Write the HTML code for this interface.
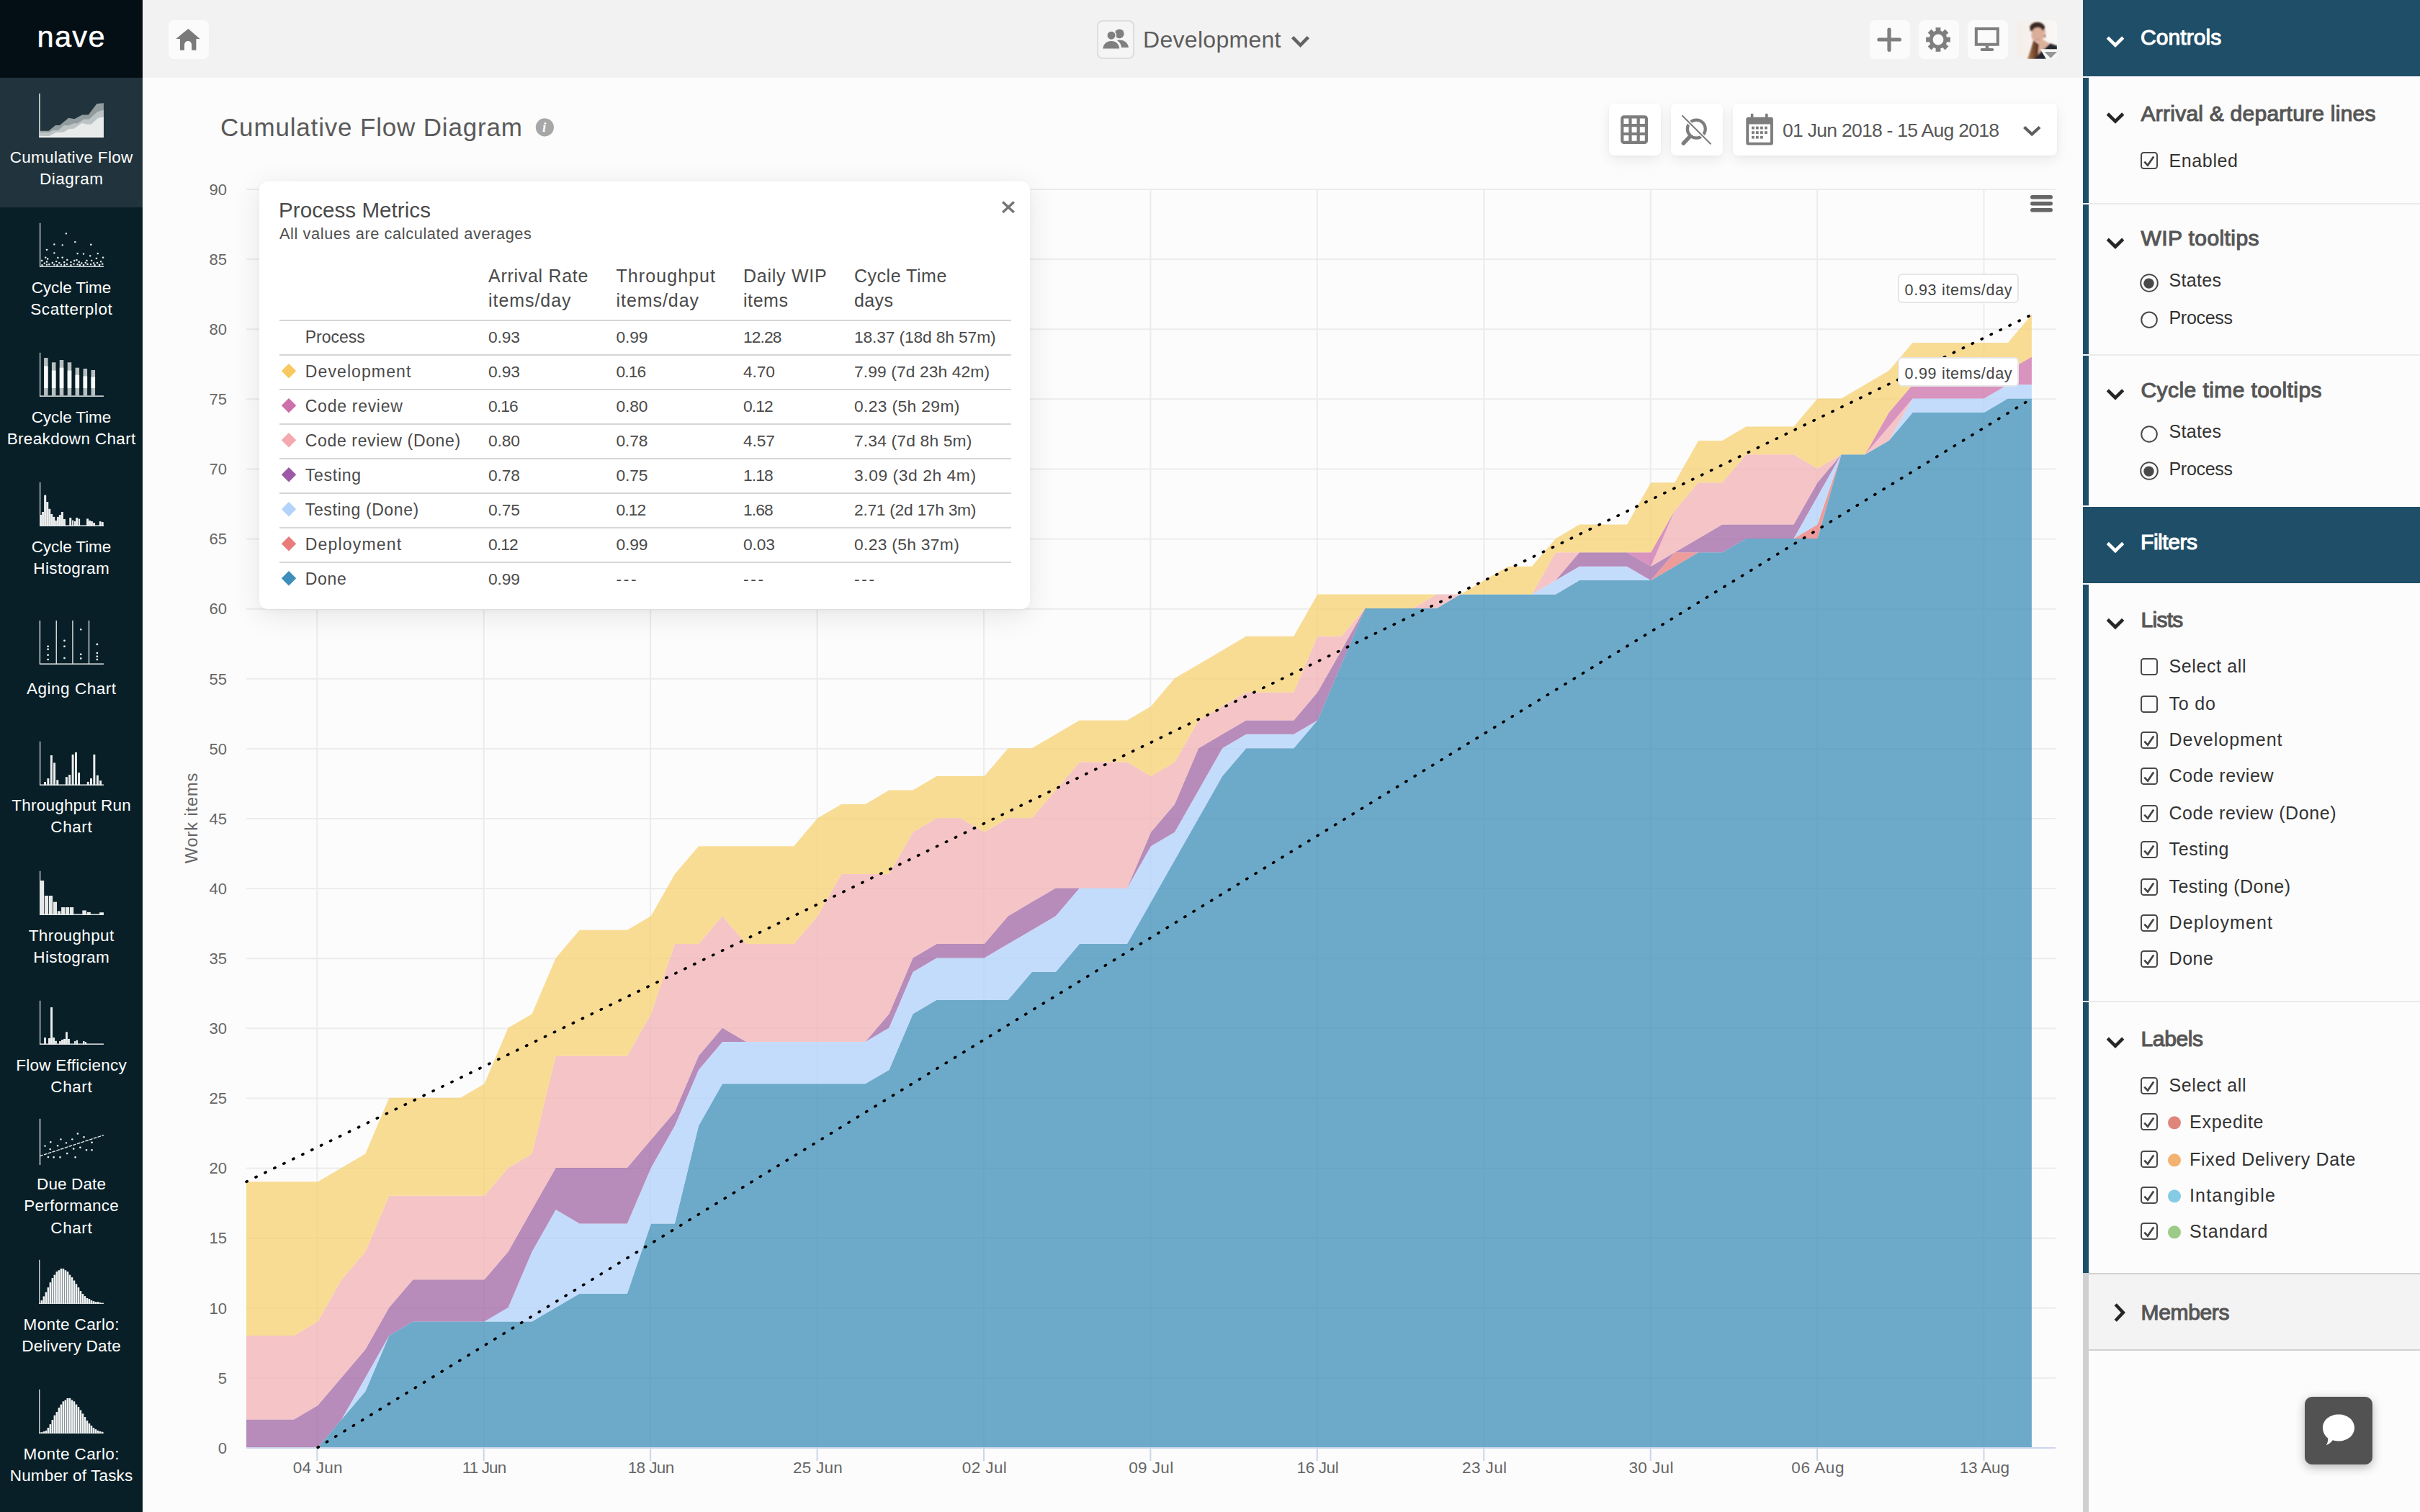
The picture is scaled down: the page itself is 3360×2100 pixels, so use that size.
<!DOCTYPE html>
<html lang="en"><head><meta charset="utf-8"><title>Cumulative Flow Diagram</title>
<style>
html,body{margin:0;padding:0}
body{width:3360px;height:2100px;position:relative;overflow:hidden;background:#fcfcfc;font-family:"Liberation Sans",sans-serif;}
.a{position:absolute;box-sizing:border-box}
.t{position:absolute;white-space:nowrap;line-height:1;margin:0;padding:0}
svg{position:absolute;left:0;top:0;overflow:visible}
</style></head>
<body>
<svg width="3360" height="2100" viewBox="0 0 3360 2100"><g><rect x="439.3" y="263" width="2" height="1748" fill="#ececec"/><rect x="439.3" y="2011" width="2" height="18" fill="#ccd6eb"/><rect x="670.7" y="263" width="2" height="1748" fill="#ececec"/><rect x="670.7" y="2011" width="2" height="18" fill="#ccd6eb"/><rect x="902.1" y="263" width="2" height="1748" fill="#ececec"/><rect x="902.1" y="2011" width="2" height="18" fill="#ccd6eb"/><rect x="1133.6" y="263" width="2" height="1748" fill="#ececec"/><rect x="1133.6" y="2011" width="2" height="18" fill="#ccd6eb"/><rect x="1365.0" y="263" width="2" height="1748" fill="#ececec"/><rect x="1365.0" y="2011" width="2" height="18" fill="#ccd6eb"/><rect x="1596.4" y="263" width="2" height="1748" fill="#ececec"/><rect x="1596.4" y="2011" width="2" height="18" fill="#ccd6eb"/><rect x="1827.8" y="263" width="2" height="1748" fill="#ececec"/><rect x="1827.8" y="2011" width="2" height="18" fill="#ccd6eb"/><rect x="2059.2" y="263" width="2" height="1748" fill="#ececec"/><rect x="2059.2" y="2011" width="2" height="18" fill="#ccd6eb"/><rect x="2290.7" y="263" width="2" height="1748" fill="#ececec"/><rect x="2290.7" y="2011" width="2" height="18" fill="#ccd6eb"/><rect x="2522.1" y="263" width="2" height="1748" fill="#ececec"/><rect x="2522.1" y="2011" width="2" height="18" fill="#ccd6eb"/><rect x="2753.5" y="263" width="2" height="1748" fill="#ececec"/><rect x="2753.5" y="2011" width="2" height="18" fill="#ccd6eb"/><rect x="342" y="1912.9" width="2512" height="2" fill="#ececec"/><rect x="342" y="1815.8" width="2512" height="2" fill="#ececec"/><rect x="342" y="1718.7" width="2512" height="2" fill="#ececec"/><rect x="342" y="1621.6" width="2512" height="2" fill="#ececec"/><rect x="342" y="1524.5" width="2512" height="2" fill="#ececec"/><rect x="342" y="1427.3" width="2512" height="2" fill="#ececec"/><rect x="342" y="1330.2" width="2512" height="2" fill="#ececec"/><rect x="342" y="1233.1" width="2512" height="2" fill="#ececec"/><rect x="342" y="1136.0" width="2512" height="2" fill="#ececec"/><rect x="342" y="1038.9" width="2512" height="2" fill="#ececec"/><rect x="342" y="941.8" width="2512" height="2" fill="#ececec"/><rect x="342" y="844.7" width="2512" height="2" fill="#ececec"/><rect x="342" y="747.6" width="2512" height="2" fill="#ececec"/><rect x="342" y="650.5" width="2512" height="2" fill="#ececec"/><rect x="342" y="553.3" width="2512" height="2" fill="#ececec"/><rect x="342" y="456.2" width="2512" height="2" fill="#ececec"/><rect x="342" y="359.1" width="2512" height="2" fill="#ececec"/><rect x="342" y="262.0" width="2512" height="2" fill="#ececec"/></g><path d="M342.0,2010.3 L375.1,2010.3 L408.1,2010.3 L441.2,2010.3 L474.2,1971.5 L507.3,1932.6 L540.3,1854.9 L573.4,1835.5 L606.4,1835.5 L639.5,1835.5 L672.5,1835.5 L705.6,1835.5 L738.6,1835.5 L771.7,1816.1 L804.7,1796.7 L837.8,1796.7 L870.8,1796.7 L903.9,1699.5 L936.9,1699.5 L970.0,1563.6 L1003.0,1505.3 L1036.1,1505.3 L1069.1,1505.3 L1102.2,1505.3 L1135.2,1505.3 L1168.3,1505.3 L1201.4,1505.3 L1234.4,1485.9 L1267.5,1408.2 L1300.5,1388.8 L1333.6,1388.8 L1366.6,1388.8 L1399.7,1388.8 L1432.7,1350.0 L1465.8,1350.0 L1498.8,1311.1 L1531.9,1311.1 L1564.9,1311.1 L1598.0,1252.8 L1631.0,1194.6 L1664.1,1136.3 L1697.1,1078.0 L1730.2,1039.2 L1763.2,1039.2 L1796.3,1039.2 L1829.3,1000.4 L1862.4,922.7 L1895.4,845.0 L1928.5,845.0 L1961.5,845.0 L1994.6,845.0 L2027.7,825.6 L2060.7,825.6 L2093.8,825.6 L2126.8,825.6 L2159.9,825.6 L2192.9,806.1 L2226.0,806.1 L2259.0,806.1 L2292.1,806.1 L2325.1,786.7 L2358.2,767.3 L2391.2,767.3 L2424.3,747.9 L2457.3,747.9 L2490.4,747.9 L2523.4,747.9 L2556.5,631.3 L2589.5,631.3 L2622.6,611.9 L2655.6,573.1 L2688.7,573.1 L2721.7,573.1 L2754.8,573.1 L2787.8,553.6 L2820.9,553.6 L2820.9,2010.3 L2787.8,2010.3 L2754.8,2010.3 L2721.7,2010.3 L2688.7,2010.3 L2655.6,2010.3 L2622.6,2010.3 L2589.5,2010.3 L2556.5,2010.3 L2523.4,2010.3 L2490.4,2010.3 L2457.3,2010.3 L2424.3,2010.3 L2391.2,2010.3 L2358.2,2010.3 L2325.1,2010.3 L2292.1,2010.3 L2259.0,2010.3 L2226.0,2010.3 L2192.9,2010.3 L2159.9,2010.3 L2126.8,2010.3 L2093.8,2010.3 L2060.7,2010.3 L2027.7,2010.3 L1994.6,2010.3 L1961.5,2010.3 L1928.5,2010.3 L1895.4,2010.3 L1862.4,2010.3 L1829.3,2010.3 L1796.3,2010.3 L1763.2,2010.3 L1730.2,2010.3 L1697.1,2010.3 L1664.1,2010.3 L1631.0,2010.3 L1598.0,2010.3 L1564.9,2010.3 L1531.9,2010.3 L1498.8,2010.3 L1465.8,2010.3 L1432.7,2010.3 L1399.7,2010.3 L1366.6,2010.3 L1333.6,2010.3 L1300.5,2010.3 L1267.5,2010.3 L1234.4,2010.3 L1201.4,2010.3 L1168.3,2010.3 L1135.2,2010.3 L1102.2,2010.3 L1069.1,2010.3 L1036.1,2010.3 L1003.0,2010.3 L970.0,2010.3 L936.9,2010.3 L903.9,2010.3 L870.8,2010.3 L837.8,2010.3 L804.7,2010.3 L771.7,2010.3 L738.6,2010.3 L705.6,2010.3 L672.5,2010.3 L639.5,2010.3 L606.4,2010.3 L573.4,2010.3 L540.3,2010.3 L507.3,2010.3 L474.2,2010.3 L441.2,2010.3 L408.1,2010.3 L375.1,2010.3 L342.0,2010.3Z" fill="#3e8fb9" fill-opacity="0.75"/><path d="M342.0,2010.3 L375.1,2010.3 L408.1,2010.3 L441.2,2010.3 L474.2,1971.5 L507.3,1932.6 L540.3,1854.9 L573.4,1835.5 L606.4,1835.5 L639.5,1835.5 L672.5,1835.5 L705.6,1835.5 L738.6,1835.5 L771.7,1816.1 L804.7,1796.7 L837.8,1796.7 L870.8,1796.7 L903.9,1699.5 L936.9,1699.5 L970.0,1563.6 L1003.0,1505.3 L1036.1,1505.3 L1069.1,1505.3 L1102.2,1505.3 L1135.2,1505.3 L1168.3,1505.3 L1201.4,1505.3 L1234.4,1485.9 L1267.5,1408.2 L1300.5,1388.8 L1333.6,1388.8 L1366.6,1388.8 L1399.7,1388.8 L1432.7,1350.0 L1465.8,1350.0 L1498.8,1311.1 L1531.9,1311.1 L1564.9,1311.1 L1598.0,1252.8 L1631.0,1194.6 L1664.1,1136.3 L1697.1,1078.0 L1730.2,1039.2 L1763.2,1039.2 L1796.3,1039.2 L1829.3,1000.4 L1862.4,922.7 L1895.4,845.0 L1928.5,845.0 L1961.5,845.0 L1994.6,845.0 L2027.7,825.6 L2060.7,825.6 L2093.8,825.6 L2126.8,825.6 L2159.9,825.6 L2192.9,806.1 L2226.0,806.1 L2259.0,806.1 L2292.1,806.1 L2325.1,767.3 L2358.2,767.3 L2391.2,767.3 L2424.3,747.9 L2457.3,747.9 L2490.4,747.9 L2523.4,728.4 L2556.5,631.3 L2589.5,631.3 L2622.6,611.9 L2655.6,573.1 L2688.7,573.1 L2721.7,573.1 L2754.8,573.1 L2787.8,553.6 L2820.9,553.6 L2820.9,553.6 L2787.8,553.6 L2754.8,573.1 L2721.7,573.1 L2688.7,573.1 L2655.6,573.1 L2622.6,611.9 L2589.5,631.3 L2556.5,631.3 L2523.4,747.9 L2490.4,747.9 L2457.3,747.9 L2424.3,747.9 L2391.2,767.3 L2358.2,767.3 L2325.1,786.7 L2292.1,806.1 L2259.0,806.1 L2226.0,806.1 L2192.9,806.1 L2159.9,825.6 L2126.8,825.6 L2093.8,825.6 L2060.7,825.6 L2027.7,825.6 L1994.6,845.0 L1961.5,845.0 L1928.5,845.0 L1895.4,845.0 L1862.4,922.7 L1829.3,1000.4 L1796.3,1039.2 L1763.2,1039.2 L1730.2,1039.2 L1697.1,1078.0 L1664.1,1136.3 L1631.0,1194.6 L1598.0,1252.8 L1564.9,1311.1 L1531.9,1311.1 L1498.8,1311.1 L1465.8,1350.0 L1432.7,1350.0 L1399.7,1388.8 L1366.6,1388.8 L1333.6,1388.8 L1300.5,1388.8 L1267.5,1408.2 L1234.4,1485.9 L1201.4,1505.3 L1168.3,1505.3 L1135.2,1505.3 L1102.2,1505.3 L1069.1,1505.3 L1036.1,1505.3 L1003.0,1505.3 L970.0,1563.6 L936.9,1699.5 L903.9,1699.5 L870.8,1796.7 L837.8,1796.7 L804.7,1796.7 L771.7,1816.1 L738.6,1835.5 L705.6,1835.5 L672.5,1835.5 L639.5,1835.5 L606.4,1835.5 L573.4,1835.5 L540.3,1854.9 L507.3,1932.6 L474.2,1971.5 L441.2,2010.3 L408.1,2010.3 L375.1,2010.3 L342.0,2010.3Z" fill="#e97c7b" fill-opacity="0.75"/><path d="M342.0,2010.3 L375.1,2010.3 L408.1,2010.3 L441.2,2010.3 L474.2,1971.5 L507.3,1913.2 L540.3,1854.9 L573.4,1835.5 L606.4,1835.5 L639.5,1835.5 L672.5,1835.5 L705.6,1816.1 L738.6,1738.4 L771.7,1680.1 L804.7,1699.5 L837.8,1699.5 L870.8,1699.5 L903.9,1621.9 L936.9,1563.6 L970.0,1485.9 L1003.0,1447.1 L1036.1,1447.1 L1069.1,1447.1 L1102.2,1447.1 L1135.2,1447.1 L1168.3,1447.1 L1201.4,1447.1 L1234.4,1427.6 L1267.5,1350.0 L1300.5,1330.5 L1333.6,1330.5 L1366.6,1330.5 L1399.7,1311.1 L1432.7,1291.7 L1465.8,1272.3 L1498.8,1233.4 L1531.9,1233.4 L1564.9,1233.4 L1598.0,1175.2 L1631.0,1155.7 L1664.1,1097.5 L1697.1,1039.2 L1730.2,1019.8 L1763.2,1019.8 L1796.3,1019.8 L1829.3,1000.4 L1862.4,922.7 L1895.4,845.0 L1928.5,845.0 L1961.5,845.0 L1994.6,845.0 L2027.7,825.6 L2060.7,825.6 L2093.8,825.6 L2126.8,825.6 L2159.9,806.1 L2192.9,786.7 L2226.0,786.7 L2259.0,786.7 L2292.1,806.1 L2325.1,767.3 L2358.2,767.3 L2391.2,767.3 L2424.3,747.9 L2457.3,747.9 L2490.4,747.9 L2523.4,689.6 L2556.5,631.3 L2589.5,631.3 L2622.6,611.9 L2655.6,553.6 L2688.7,553.6 L2721.7,553.6 L2754.8,553.6 L2787.8,534.2 L2820.9,534.2 L2820.9,553.6 L2787.8,553.6 L2754.8,573.1 L2721.7,573.1 L2688.7,573.1 L2655.6,573.1 L2622.6,611.9 L2589.5,631.3 L2556.5,631.3 L2523.4,728.4 L2490.4,747.9 L2457.3,747.9 L2424.3,747.9 L2391.2,767.3 L2358.2,767.3 L2325.1,767.3 L2292.1,806.1 L2259.0,806.1 L2226.0,806.1 L2192.9,806.1 L2159.9,825.6 L2126.8,825.6 L2093.8,825.6 L2060.7,825.6 L2027.7,825.6 L1994.6,845.0 L1961.5,845.0 L1928.5,845.0 L1895.4,845.0 L1862.4,922.7 L1829.3,1000.4 L1796.3,1039.2 L1763.2,1039.2 L1730.2,1039.2 L1697.1,1078.0 L1664.1,1136.3 L1631.0,1194.6 L1598.0,1252.8 L1564.9,1311.1 L1531.9,1311.1 L1498.8,1311.1 L1465.8,1350.0 L1432.7,1350.0 L1399.7,1388.8 L1366.6,1388.8 L1333.6,1388.8 L1300.5,1388.8 L1267.5,1408.2 L1234.4,1485.9 L1201.4,1505.3 L1168.3,1505.3 L1135.2,1505.3 L1102.2,1505.3 L1069.1,1505.3 L1036.1,1505.3 L1003.0,1505.3 L970.0,1563.6 L936.9,1699.5 L903.9,1699.5 L870.8,1796.7 L837.8,1796.7 L804.7,1796.7 L771.7,1816.1 L738.6,1835.5 L705.6,1835.5 L672.5,1835.5 L639.5,1835.5 L606.4,1835.5 L573.4,1835.5 L540.3,1854.9 L507.3,1932.6 L474.2,1971.5 L441.2,2010.3 L408.1,2010.3 L375.1,2010.3 L342.0,2010.3Z" fill="#b2d2fb" fill-opacity="0.75"/><path d="M342.0,1971.5 L375.1,1971.5 L408.1,1971.5 L441.2,1952.0 L474.2,1913.2 L507.3,1874.3 L540.3,1816.1 L573.4,1777.2 L606.4,1777.2 L639.5,1777.2 L672.5,1777.2 L705.6,1738.4 L738.6,1680.1 L771.7,1621.9 L804.7,1621.9 L837.8,1621.9 L870.8,1621.9 L903.9,1583.0 L936.9,1544.2 L970.0,1466.5 L1003.0,1427.6 L1036.1,1447.1 L1069.1,1447.1 L1102.2,1447.1 L1135.2,1447.1 L1168.3,1447.1 L1201.4,1447.1 L1234.4,1408.2 L1267.5,1330.5 L1300.5,1311.1 L1333.6,1311.1 L1366.6,1311.1 L1399.7,1272.3 L1432.7,1252.8 L1465.8,1233.4 L1498.8,1233.4 L1531.9,1233.4 L1564.9,1233.4 L1598.0,1155.7 L1631.0,1116.9 L1664.1,1039.2 L1697.1,1019.8 L1730.2,1000.4 L1763.2,1000.4 L1796.3,1000.4 L1829.3,961.5 L1862.4,903.2 L1895.4,845.0 L1928.5,845.0 L1961.5,845.0 L1994.6,845.0 L2027.7,825.6 L2060.7,825.6 L2093.8,825.6 L2126.8,825.6 L2159.9,806.1 L2192.9,767.3 L2226.0,767.3 L2259.0,767.3 L2292.1,786.7 L2325.1,767.3 L2358.2,747.9 L2391.2,728.4 L2424.3,728.4 L2457.3,728.4 L2490.4,728.4 L2523.4,670.2 L2556.5,631.3 L2589.5,631.3 L2622.6,611.9 L2655.6,553.6 L2688.7,553.6 L2721.7,553.6 L2754.8,553.6 L2787.8,534.2 L2820.9,534.2 L2820.9,534.2 L2787.8,534.2 L2754.8,553.6 L2721.7,553.6 L2688.7,553.6 L2655.6,553.6 L2622.6,611.9 L2589.5,631.3 L2556.5,631.3 L2523.4,689.6 L2490.4,747.9 L2457.3,747.9 L2424.3,747.9 L2391.2,767.3 L2358.2,767.3 L2325.1,767.3 L2292.1,806.1 L2259.0,786.7 L2226.0,786.7 L2192.9,786.7 L2159.9,806.1 L2126.8,825.6 L2093.8,825.6 L2060.7,825.6 L2027.7,825.6 L1994.6,845.0 L1961.5,845.0 L1928.5,845.0 L1895.4,845.0 L1862.4,922.7 L1829.3,1000.4 L1796.3,1019.8 L1763.2,1019.8 L1730.2,1019.8 L1697.1,1039.2 L1664.1,1097.5 L1631.0,1155.7 L1598.0,1175.2 L1564.9,1233.4 L1531.9,1233.4 L1498.8,1233.4 L1465.8,1272.3 L1432.7,1291.7 L1399.7,1311.1 L1366.6,1330.5 L1333.6,1330.5 L1300.5,1330.5 L1267.5,1350.0 L1234.4,1427.6 L1201.4,1447.1 L1168.3,1447.1 L1135.2,1447.1 L1102.2,1447.1 L1069.1,1447.1 L1036.1,1447.1 L1003.0,1447.1 L970.0,1485.9 L936.9,1563.6 L903.9,1621.9 L870.8,1699.5 L837.8,1699.5 L804.7,1699.5 L771.7,1680.1 L738.6,1738.4 L705.6,1816.1 L672.5,1835.5 L639.5,1835.5 L606.4,1835.5 L573.4,1835.5 L540.3,1854.9 L507.3,1913.2 L474.2,1971.5 L441.2,2010.3 L408.1,2010.3 L375.1,2010.3 L342.0,2010.3Z" fill="#a065a4" fill-opacity="0.75"/><path d="M342.0,1854.9 L375.1,1854.9 L408.1,1854.9 L441.2,1835.5 L474.2,1777.2 L507.3,1738.4 L540.3,1660.7 L573.4,1660.7 L606.4,1660.7 L639.5,1660.7 L672.5,1660.7 L705.6,1621.9 L738.6,1602.4 L771.7,1466.5 L804.7,1466.5 L837.8,1466.5 L870.8,1466.5 L903.9,1408.2 L936.9,1311.1 L970.0,1311.1 L1003.0,1272.3 L1036.1,1311.1 L1069.1,1311.1 L1102.2,1311.1 L1135.2,1272.3 L1168.3,1214.0 L1201.4,1214.0 L1234.4,1214.0 L1267.5,1155.7 L1300.5,1136.3 L1333.6,1136.3 L1366.6,1155.7 L1399.7,1136.3 L1432.7,1136.3 L1465.8,1097.5 L1498.8,1058.6 L1531.9,1058.6 L1564.9,1058.6 L1598.0,1078.0 L1631.0,1058.6 L1664.1,1000.4 L1697.1,980.9 L1730.2,961.5 L1763.2,961.5 L1796.3,961.5 L1829.3,883.8 L1862.4,883.8 L1895.4,845.0 L1928.5,845.0 L1961.5,845.0 L1994.6,825.6 L2027.7,825.6 L2060.7,825.6 L2093.8,825.6 L2126.8,825.6 L2159.9,767.3 L2192.9,767.3 L2226.0,767.3 L2259.0,767.3 L2292.1,786.7 L2325.1,709.0 L2358.2,670.2 L2391.2,670.2 L2424.3,631.3 L2457.3,631.3 L2490.4,631.3 L2523.4,650.8 L2556.5,631.3 L2589.5,631.3 L2622.6,592.5 L2655.6,553.6 L2688.7,553.6 L2721.7,553.6 L2754.8,553.6 L2787.8,534.2 L2820.9,534.2 L2820.9,534.2 L2787.8,534.2 L2754.8,553.6 L2721.7,553.6 L2688.7,553.6 L2655.6,553.6 L2622.6,611.9 L2589.5,631.3 L2556.5,631.3 L2523.4,670.2 L2490.4,728.4 L2457.3,728.4 L2424.3,728.4 L2391.2,728.4 L2358.2,747.9 L2325.1,767.3 L2292.1,786.7 L2259.0,767.3 L2226.0,767.3 L2192.9,767.3 L2159.9,806.1 L2126.8,825.6 L2093.8,825.6 L2060.7,825.6 L2027.7,825.6 L1994.6,845.0 L1961.5,845.0 L1928.5,845.0 L1895.4,845.0 L1862.4,903.2 L1829.3,961.5 L1796.3,1000.4 L1763.2,1000.4 L1730.2,1000.4 L1697.1,1019.8 L1664.1,1039.2 L1631.0,1116.9 L1598.0,1155.7 L1564.9,1233.4 L1531.9,1233.4 L1498.8,1233.4 L1465.8,1233.4 L1432.7,1252.8 L1399.7,1272.3 L1366.6,1311.1 L1333.6,1311.1 L1300.5,1311.1 L1267.5,1330.5 L1234.4,1408.2 L1201.4,1447.1 L1168.3,1447.1 L1135.2,1447.1 L1102.2,1447.1 L1069.1,1447.1 L1036.1,1447.1 L1003.0,1427.6 L970.0,1466.5 L936.9,1544.2 L903.9,1583.0 L870.8,1621.9 L837.8,1621.9 L804.7,1621.9 L771.7,1621.9 L738.6,1680.1 L705.6,1738.4 L672.5,1777.2 L639.5,1777.2 L606.4,1777.2 L573.4,1777.2 L540.3,1816.1 L507.3,1874.3 L474.2,1913.2 L441.2,1952.0 L408.1,1971.5 L375.1,1971.5 L342.0,1971.5Z" fill="#f3b1b4" fill-opacity="0.75"/><path d="M342.0,1854.9 L375.1,1854.9 L408.1,1854.9 L441.2,1835.5 L474.2,1777.2 L507.3,1738.4 L540.3,1660.7 L573.4,1660.7 L606.4,1660.7 L639.5,1660.7 L672.5,1660.7 L705.6,1621.9 L738.6,1602.4 L771.7,1466.5 L804.7,1466.5 L837.8,1466.5 L870.8,1466.5 L903.9,1408.2 L936.9,1311.1 L970.0,1311.1 L1003.0,1272.3 L1036.1,1311.1 L1069.1,1311.1 L1102.2,1311.1 L1135.2,1272.3 L1168.3,1214.0 L1201.4,1214.0 L1234.4,1214.0 L1267.5,1155.7 L1300.5,1136.3 L1333.6,1136.3 L1366.6,1155.7 L1399.7,1136.3 L1432.7,1136.3 L1465.8,1097.5 L1498.8,1058.6 L1531.9,1058.6 L1564.9,1058.6 L1598.0,1078.0 L1631.0,1058.6 L1664.1,1000.4 L1697.1,980.9 L1730.2,961.5 L1763.2,961.5 L1796.3,961.5 L1829.3,883.8 L1862.4,883.8 L1895.4,845.0 L1928.5,845.0 L1961.5,845.0 L1994.6,825.6 L2027.7,825.6 L2060.7,825.6 L2093.8,825.6 L2126.8,825.6 L2159.9,767.3 L2192.9,767.3 L2226.0,767.3 L2259.0,767.3 L2292.1,767.3 L2325.1,709.0 L2358.2,670.2 L2391.2,670.2 L2424.3,631.3 L2457.3,631.3 L2490.4,631.3 L2523.4,650.8 L2556.5,631.3 L2589.5,631.3 L2622.6,573.1 L2655.6,534.2 L2688.7,534.2 L2721.7,534.2 L2754.8,534.2 L2787.8,514.8 L2820.9,495.4 L2820.9,534.2 L2787.8,534.2 L2754.8,553.6 L2721.7,553.6 L2688.7,553.6 L2655.6,553.6 L2622.6,592.5 L2589.5,631.3 L2556.5,631.3 L2523.4,650.8 L2490.4,631.3 L2457.3,631.3 L2424.3,631.3 L2391.2,670.2 L2358.2,670.2 L2325.1,709.0 L2292.1,786.7 L2259.0,767.3 L2226.0,767.3 L2192.9,767.3 L2159.9,767.3 L2126.8,825.6 L2093.8,825.6 L2060.7,825.6 L2027.7,825.6 L1994.6,825.6 L1961.5,845.0 L1928.5,845.0 L1895.4,845.0 L1862.4,883.8 L1829.3,883.8 L1796.3,961.5 L1763.2,961.5 L1730.2,961.5 L1697.1,980.9 L1664.1,1000.4 L1631.0,1058.6 L1598.0,1078.0 L1564.9,1058.6 L1531.9,1058.6 L1498.8,1058.6 L1465.8,1097.5 L1432.7,1136.3 L1399.7,1136.3 L1366.6,1155.7 L1333.6,1136.3 L1300.5,1136.3 L1267.5,1155.7 L1234.4,1214.0 L1201.4,1214.0 L1168.3,1214.0 L1135.2,1272.3 L1102.2,1311.1 L1069.1,1311.1 L1036.1,1311.1 L1003.0,1272.3 L970.0,1311.1 L936.9,1311.1 L903.9,1408.2 L870.8,1466.5 L837.8,1466.5 L804.7,1466.5 L771.7,1466.5 L738.6,1602.4 L705.6,1621.9 L672.5,1660.7 L639.5,1660.7 L606.4,1660.7 L573.4,1660.7 L540.3,1660.7 L507.3,1738.4 L474.2,1777.2 L441.2,1835.5 L408.1,1854.9 L375.1,1854.9 L342.0,1854.9Z" fill="#cc70ab" fill-opacity="0.75"/><path d="M342.0,1641.3 L375.1,1641.3 L408.1,1641.3 L441.2,1641.3 L474.2,1621.9 L507.3,1602.4 L540.3,1524.8 L573.4,1524.8 L606.4,1524.8 L639.5,1524.8 L672.5,1505.3 L705.6,1427.6 L738.6,1408.2 L771.7,1330.5 L804.7,1291.7 L837.8,1291.7 L870.8,1291.7 L903.9,1272.3 L936.9,1214.0 L970.0,1175.2 L1003.0,1175.2 L1036.1,1175.2 L1069.1,1175.2 L1102.2,1175.2 L1135.2,1136.3 L1168.3,1116.9 L1201.4,1116.9 L1234.4,1097.5 L1267.5,1097.5 L1300.5,1078.0 L1333.6,1078.0 L1366.6,1078.0 L1399.7,1039.2 L1432.7,1039.2 L1465.8,1019.8 L1498.8,1000.4 L1531.9,1000.4 L1564.9,1000.4 L1598.0,980.9 L1631.0,942.1 L1664.1,922.7 L1697.1,903.2 L1730.2,883.8 L1763.2,883.8 L1796.3,883.8 L1829.3,825.6 L1862.4,825.6 L1895.4,825.6 L1928.5,825.6 L1961.5,825.6 L1994.6,825.6 L2027.7,825.6 L2060.7,806.1 L2093.8,786.7 L2126.8,786.7 L2159.9,747.9 L2192.9,728.4 L2226.0,728.4 L2259.0,728.4 L2292.1,670.2 L2325.1,670.2 L2358.2,611.9 L2391.2,611.9 L2424.3,592.5 L2457.3,592.5 L2490.4,592.5 L2523.4,553.6 L2556.5,553.6 L2589.5,534.2 L2622.6,514.8 L2655.6,476.0 L2688.7,476.0 L2721.7,476.0 L2754.8,476.0 L2787.8,476.0 L2820.9,437.1 L2820.9,495.4 L2787.8,514.8 L2754.8,534.2 L2721.7,534.2 L2688.7,534.2 L2655.6,534.2 L2622.6,573.1 L2589.5,631.3 L2556.5,631.3 L2523.4,650.8 L2490.4,631.3 L2457.3,631.3 L2424.3,631.3 L2391.2,670.2 L2358.2,670.2 L2325.1,709.0 L2292.1,767.3 L2259.0,767.3 L2226.0,767.3 L2192.9,767.3 L2159.9,767.3 L2126.8,825.6 L2093.8,825.6 L2060.7,825.6 L2027.7,825.6 L1994.6,825.6 L1961.5,845.0 L1928.5,845.0 L1895.4,845.0 L1862.4,883.8 L1829.3,883.8 L1796.3,961.5 L1763.2,961.5 L1730.2,961.5 L1697.1,980.9 L1664.1,1000.4 L1631.0,1058.6 L1598.0,1078.0 L1564.9,1058.6 L1531.9,1058.6 L1498.8,1058.6 L1465.8,1097.5 L1432.7,1136.3 L1399.7,1136.3 L1366.6,1155.7 L1333.6,1136.3 L1300.5,1136.3 L1267.5,1155.7 L1234.4,1214.0 L1201.4,1214.0 L1168.3,1214.0 L1135.2,1272.3 L1102.2,1311.1 L1069.1,1311.1 L1036.1,1311.1 L1003.0,1272.3 L970.0,1311.1 L936.9,1311.1 L903.9,1408.2 L870.8,1466.5 L837.8,1466.5 L804.7,1466.5 L771.7,1466.5 L738.6,1602.4 L705.6,1621.9 L672.5,1660.7 L639.5,1660.7 L606.4,1660.7 L573.4,1660.7 L540.3,1660.7 L507.3,1738.4 L474.2,1777.2 L441.2,1835.5 L408.1,1854.9 L375.1,1854.9 L342.0,1854.9Z" fill="#f8d171" fill-opacity="0.75"/><rect x="342" y="2010" width="2512" height="2" fill="#ccd6eb"/><g stroke="#000" stroke-width="3.7" stroke-linecap="round" stroke-dasharray="1.3 13.1" fill="none"><path d="M342.0,1641.3 L2820.9,437.1"/><path d="M441.2,2010.3 L2820.9,553.6"/></g><g fill="#666"><rect x="2819" y="271" width="31" height="5.5" rx="2.7"/><rect x="2819" y="280" width="31" height="5.5" rx="2.7"/><rect x="2819" y="289" width="31" height="5.5" rx="2.7"/></g></svg>
<div class="t" style="left:302.76px;top:2000.75px;font-size:22.00px;color:#666;letter-spacing:0.000px;">0</div>
<div class="t" style="left:302.76px;top:1903.75px;font-size:22.00px;color:#666;letter-spacing:0.000px;">5</div>
<div class="t" style="left:290.53px;top:1806.75px;font-size:22.00px;color:#666;letter-spacing:0.000px;">10</div>
<div class="t" style="left:290.53px;top:1708.75px;font-size:22.00px;color:#666;letter-spacing:0.000px;">15</div>
<div class="t" style="left:290.53px;top:1611.75px;font-size:22.00px;color:#666;letter-spacing:0.000px;">20</div>
<div class="t" style="left:290.53px;top:1514.75px;font-size:22.00px;color:#666;letter-spacing:0.000px;">25</div>
<div class="t" style="left:290.53px;top:1417.75px;font-size:22.00px;color:#666;letter-spacing:0.000px;">30</div>
<div class="t" style="left:290.53px;top:1320.75px;font-size:22.00px;color:#666;letter-spacing:0.000px;">35</div>
<div class="t" style="left:290.53px;top:1223.75px;font-size:22.00px;color:#666;letter-spacing:0.000px;">40</div>
<div class="t" style="left:290.53px;top:1126.75px;font-size:22.00px;color:#666;letter-spacing:0.000px;">45</div>
<div class="t" style="left:290.53px;top:1029.75px;font-size:22.00px;color:#666;letter-spacing:0.000px;">50</div>
<div class="t" style="left:290.53px;top:932.75px;font-size:22.00px;color:#666;letter-spacing:0.000px;">55</div>
<div class="t" style="left:290.53px;top:834.75px;font-size:22.00px;color:#666;letter-spacing:0.000px;">60</div>
<div class="t" style="left:290.53px;top:737.75px;font-size:22.00px;color:#666;letter-spacing:0.000px;">65</div>
<div class="t" style="left:290.53px;top:640.75px;font-size:22.00px;color:#666;letter-spacing:0.000px;">70</div>
<div class="t" style="left:290.53px;top:543.75px;font-size:22.00px;color:#666;letter-spacing:0.000px;">75</div>
<div class="t" style="left:290.53px;top:446.75px;font-size:22.00px;color:#666;letter-spacing:0.000px;">80</div>
<div class="t" style="left:290.53px;top:349.75px;font-size:22.00px;color:#666;letter-spacing:0.000px;">85</div>
<div class="t" style="left:290.53px;top:252.75px;font-size:22.00px;color:#666;letter-spacing:0.000px;">90</div>
<div class="t" style="left:406.80px;top:2027.50px;font-size:22.50px;color:#666;letter-spacing:0.209px;">04 Jun</div>
<div class="t" style="left:641.83px;top:2027.50px;font-size:22.50px;color:#666;letter-spacing:-0.900px;">11 Jun</div>
<div class="t" style="left:871.64px;top:2027.50px;font-size:22.50px;color:#666;letter-spacing:-0.591px;">18 Jun</div>
<div class="t" style="left:1101.06px;top:2027.50px;font-size:22.50px;color:#666;letter-spacing:0.209px;">25 Jun</div>
<div class="t" style="left:1335.73px;top:2027.50px;font-size:22.50px;color:#666;letter-spacing:0.412px;">02 Jul</div>
<div class="t" style="left:1567.15px;top:2027.50px;font-size:22.50px;color:#666;letter-spacing:0.412px;">09 Jul</div>
<div class="t" style="left:1800.57px;top:2027.50px;font-size:22.50px;color:#666;letter-spacing:-0.388px;">16 Jul</div>
<div class="t" style="left:2029.99px;top:2027.50px;font-size:22.50px;color:#666;letter-spacing:0.412px;">23 Jul</div>
<div class="t" style="left:2261.41px;top:2027.50px;font-size:22.50px;color:#666;letter-spacing:0.412px;">30 Jul</div>
<div class="t" style="left:2487.23px;top:2027.50px;font-size:22.50px;color:#666;letter-spacing:0.645px;">06 Aug</div>
<div class="t" style="left:2720.65px;top:2027.50px;font-size:22.50px;color:#666;letter-spacing:-0.155px;">13 Aug</div>
<div class="t" style="left:267px;top:1135.5px;width:0;height:0;"><div style="position:absolute;white-space:nowrap;transform:translate(-50%,-50%) rotate(-90deg);font-size:23.5px;letter-spacing:0.95px;color:#666;line-height:1">Work items</div></div>
<div class="a" style="left:2635px;top:380px;width:168px;height:41px;background:#fff;border:2px solid #e6e6e6;border-radius:6px;"></div>
<div class="t" style="left:2644.60px;top:392.50px;font-size:21.50px;color:#444;letter-spacing:0.706px;">0.93 items/day</div>
<div class="a" style="left:2635px;top:496px;width:168px;height:41px;background:#fff;border:2px solid #e6e6e6;border-radius:6px;"></div>
<div class="t" style="left:2644.60px;top:508.50px;font-size:21.50px;color:#444;letter-spacing:0.706px;">0.99 items/day</div>
<div class="a" style="left:360px;top:252px;width:1070px;height:594px;background:#fff;border-radius:12px;box-shadow:0 8px 40px rgba(0,0,0,0.095),0 2px 8px rgba(0,0,0,0.03);"></div>
<div class="t" style="left:387.00px;top:276.95px;font-size:29.60px;color:#4a4a4a;letter-spacing:0.034px;">Process Metrics</div>
<div class="t" style="left:388.00px;top:313.85px;font-size:21.80px;color:#4f4f4f;letter-spacing:0.581px;">All values are calculated averages</div>
<div class="t" style="left:678.00px;top:370.75px;font-size:25.00px;color:#4a4a4a;letter-spacing:0.709px;">Arrival Rate</div>
<div class="t" style="left:678.00px;top:404.75px;font-size:25.00px;color:#4a4a4a;letter-spacing:0.939px;">items/day</div>
<div class="t" style="left:855.50px;top:370.75px;font-size:25.00px;color:#4a4a4a;letter-spacing:1.070px;">Throughput</div>
<div class="t" style="left:855.50px;top:404.75px;font-size:25.00px;color:#4a4a4a;letter-spacing:0.939px;">items/day</div>
<div class="t" style="left:1032.00px;top:370.75px;font-size:25.00px;color:#4a4a4a;letter-spacing:0.746px;">Daily WIP</div>
<div class="t" style="left:1032.00px;top:404.75px;font-size:25.00px;color:#4a4a4a;letter-spacing:0.567px;">items</div>
<div class="t" style="left:1186.00px;top:370.75px;font-size:25.00px;color:#4a4a4a;letter-spacing:0.518px;">Cycle Time</div>
<div class="t" style="left:1186.00px;top:404.75px;font-size:25.00px;color:#4a4a4a;letter-spacing:0.397px;">days</div>
<div class="a" style="left:388px;top:444px;width:1016px;height:2px;background:#d6d6d6;"></div>
<div class="a" style="left:388px;top:492px;width:1016px;height:2px;background:#d6d6d6;"></div>
<div class="a" style="left:388px;top:540px;width:1016px;height:2px;background:#d6d6d6;"></div>
<div class="a" style="left:388px;top:588px;width:1016px;height:2px;background:#d6d6d6;"></div>
<div class="a" style="left:388px;top:636px;width:1016px;height:2px;background:#d6d6d6;"></div>
<div class="a" style="left:388px;top:684px;width:1016px;height:2px;background:#d6d6d6;"></div>
<div class="a" style="left:388px;top:732px;width:1016px;height:2px;background:#d6d6d6;"></div>
<div class="a" style="left:388px;top:780px;width:1016px;height:2px;background:#d6d6d6;"></div>
<div class="t" style="left:423.80px;top:456.75px;font-size:23.00px;color:#4a4a4a;letter-spacing:-0.031px;">Process</div>
<div class="t" style="left:678.00px;top:456.85px;font-size:22.80px;color:#4a4a4a;letter-spacing:-0.159px;">0.93</div>
<div class="t" style="left:855.50px;top:456.85px;font-size:22.80px;color:#4a4a4a;letter-spacing:-0.159px;">0.99</div>
<div class="t" style="left:1032.00px;top:456.85px;font-size:22.80px;color:#4a4a4a;letter-spacing:-0.900px;">12.28</div>
<div class="t" style="left:1186.00px;top:456.85px;font-size:22.80px;color:#4a4a4a;letter-spacing:-0.141px;">18.37 (18d 8h 57m)</div>
<div class="t" style="left:423.80px;top:504.75px;font-size:23.00px;color:#4a4a4a;letter-spacing:1.098px;">Development</div>
<div class="t" style="left:678.00px;top:504.85px;font-size:22.80px;color:#4a4a4a;letter-spacing:-0.159px;">0.93</div>
<div class="t" style="left:855.50px;top:504.85px;font-size:22.80px;color:#4a4a4a;letter-spacing:-0.900px;">0.16</div>
<div class="t" style="left:1032.00px;top:504.85px;font-size:22.80px;color:#4a4a4a;letter-spacing:-0.159px;">4.70</div>
<div class="t" style="left:1186.00px;top:504.85px;font-size:22.80px;color:#4a4a4a;letter-spacing:0.105px;">7.99 (7d 23h 42m)</div>
<div class="t" style="left:423.80px;top:552.75px;font-size:23.00px;color:#4a4a4a;letter-spacing:0.716px;">Code review</div>
<div class="t" style="left:678.00px;top:552.85px;font-size:22.80px;color:#4a4a4a;letter-spacing:-0.900px;">0.16</div>
<div class="t" style="left:855.50px;top:552.85px;font-size:22.80px;color:#4a4a4a;letter-spacing:-0.159px;">0.80</div>
<div class="t" style="left:1032.00px;top:552.85px;font-size:22.80px;color:#4a4a4a;letter-spacing:-0.900px;">0.12</div>
<div class="t" style="left:1186.00px;top:552.85px;font-size:22.80px;color:#4a4a4a;letter-spacing:0.371px;">0.23 (5h 29m)</div>
<div class="t" style="left:423.80px;top:600.75px;font-size:23.00px;color:#4a4a4a;letter-spacing:0.633px;">Code review (Done)</div>
<div class="t" style="left:678.00px;top:600.85px;font-size:22.80px;color:#4a4a4a;letter-spacing:-0.159px;">0.80</div>
<div class="t" style="left:855.50px;top:600.85px;font-size:22.80px;color:#4a4a4a;letter-spacing:-0.159px;">0.78</div>
<div class="t" style="left:1032.00px;top:600.85px;font-size:22.80px;color:#4a4a4a;letter-spacing:-0.159px;">4.57</div>
<div class="t" style="left:1186.00px;top:600.85px;font-size:22.80px;color:#4a4a4a;letter-spacing:0.174px;">7.34 (7d 8h 5m)</div>
<div class="t" style="left:423.80px;top:648.75px;font-size:23.00px;color:#4a4a4a;letter-spacing:0.737px;">Testing</div>
<div class="t" style="left:678.00px;top:648.85px;font-size:22.80px;color:#4a4a4a;letter-spacing:-0.159px;">0.78</div>
<div class="t" style="left:855.50px;top:648.85px;font-size:22.80px;color:#4a4a4a;letter-spacing:-0.159px;">0.75</div>
<div class="t" style="left:1032.00px;top:648.85px;font-size:22.80px;color:#4a4a4a;letter-spacing:-0.900px;">1.18</div>
<div class="t" style="left:1186.00px;top:648.85px;font-size:22.80px;color:#4a4a4a;letter-spacing:0.574px;">3.09 (3d 2h 4m)</div>
<div class="t" style="left:423.80px;top:696.75px;font-size:23.00px;color:#4a4a4a;letter-spacing:0.602px;">Testing (Done)</div>
<div class="t" style="left:678.00px;top:696.85px;font-size:22.80px;color:#4a4a4a;letter-spacing:-0.159px;">0.75</div>
<div class="t" style="left:855.50px;top:696.85px;font-size:22.80px;color:#4a4a4a;letter-spacing:-0.900px;">0.12</div>
<div class="t" style="left:1032.00px;top:696.85px;font-size:22.80px;color:#4a4a4a;letter-spacing:-0.900px;">1.68</div>
<div class="t" style="left:1186.00px;top:696.85px;font-size:22.80px;color:#4a4a4a;letter-spacing:-0.283px;">2.71 (2d 17h 3m)</div>
<div class="t" style="left:423.80px;top:744.75px;font-size:23.00px;color:#4a4a4a;letter-spacing:1.174px;">Deployment</div>
<div class="t" style="left:678.00px;top:744.85px;font-size:22.80px;color:#4a4a4a;letter-spacing:-0.900px;">0.12</div>
<div class="t" style="left:855.50px;top:744.85px;font-size:22.80px;color:#4a4a4a;letter-spacing:-0.159px;">0.99</div>
<div class="t" style="left:1032.00px;top:744.85px;font-size:22.80px;color:#4a4a4a;letter-spacing:-0.159px;">0.03</div>
<div class="t" style="left:1186.00px;top:744.85px;font-size:22.80px;color:#4a4a4a;letter-spacing:0.321px;">0.23 (5h 37m)</div>
<div class="t" style="left:423.80px;top:792.75px;font-size:23.00px;color:#4a4a4a;letter-spacing:0.671px;">Done</div>
<div class="t" style="left:678.00px;top:792.85px;font-size:22.80px;color:#4a4a4a;letter-spacing:-0.159px;">0.99</div>
<div class="t" style="left:855.50px;top:792.85px;font-size:22.80px;color:#4a4a4a;letter-spacing:2.610px;">---</div>
<div class="t" style="left:1032.00px;top:792.85px;font-size:22.80px;color:#4a4a4a;letter-spacing:2.610px;">---</div>
<div class="t" style="left:1186.00px;top:792.85px;font-size:22.80px;color:#4a4a4a;letter-spacing:2.610px;">---</div><svg width="3360" height="2100" viewBox="0 0 3360 2100"><path d="M1392.2,280.6 L1407.8,295 M1407.8,280.6 L1392.2,295" stroke="#757575" stroke-width="3.4" fill="none"/><path d="M401,505.0 L411.2,515.2 L401,525.4 L390.8,515.2Z" fill="#f7c95f"/><path d="M401,553.0 L411.2,563.2 L401,573.4 L390.8,563.2Z" fill="#cc6fab"/><path d="M401,601.0 L411.2,611.2 L401,621.4 L390.8,611.2Z" fill="#f3a9ad"/><path d="M401,649.0 L411.2,659.2 L401,669.4 L390.8,659.2Z" fill="#9b59a6"/><path d="M401,697.0 L411.2,707.2 L401,717.4 L390.8,707.2Z" fill="#b3d3fb"/><path d="M401,745.0 L411.2,755.2 L401,765.4 L390.8,755.2Z" fill="#ea7b7a"/><path d="M401,793.0 L411.2,803.2 L401,813.4 L390.8,803.2Z" fill="#3d8eb9"/></svg>
<div class="a" style="left:198px;top:0px;width:2694px;height:108px;background:#f2f2f2;"></div>
<div class="a" style="left:234px;top:28px;width:56px;height:54px;background:#fbfbfb;border-radius:8px;"></div>
<div class="a" style="left:1523px;top:28px;width:52px;height:54px;background:#f5f5f5;border:2px solid #dedede;border-radius:8px;"></div>
<div class="t" style="left:1587.00px;top:39.25px;font-size:32.00px;color:#5c5c5c;letter-spacing:0.295px;">Development</div>
<div class="a" style="left:2596px;top:28px;width:56px;height:54px;background:#fbfbfb;border-radius:8px;"></div>
<div class="a" style="left:2664px;top:28px;width:56px;height:54px;background:#fbfbfb;border-radius:8px;"></div>
<div class="a" style="left:2732px;top:28px;width:56px;height:54px;background:#fbfbfb;border-radius:8px;"></div>
<div class="a" style="left:2800px;top:28px;width:56px;height:54px;background:#f6f1ee;border-radius:8px;overflow:hidden;"></div>
<svg width="3360" height="2100" viewBox="0 0 3360 2100"><path d="M261.4,39.9 L277.7,53.9 L272.4,53.9 L272.4,69.8 L266.1,69.8 L266.1,62.1 A5.05,5.05 0 0,0 256,62.1 L256,69.8 L249.9,69.8 L249.9,53.9 L244.3,53.9 Z" fill="#7a7a7a"/><g fill="#7f7f7f"><circle cx="1554.3" cy="46.8" r="6.4"/><path d="M1553,55.5 C1561,55 1566.5,60 1567,66 L1557,66 C1556.5,61.5 1554.5,58 1551,56.2 Z"/><circle cx="1543" cy="49.2" r="6.3" stroke="#f5f5f5" stroke-width="1.6"/><path d="M1530.8,68.2 C1531,61 1536,56.5 1543,56.5 C1550,56.5 1554.6,61 1554.8,68.2 Z" stroke="#f5f5f5" stroke-width="1.2"/></g><path d="M1794.6,51.6 L1805.5,62.8 L1816.4,51.6" fill="none" stroke="#636363" stroke-width="4.6" stroke-linejoin="miter" stroke-linecap="butt"/><path d="M2623,41 L2623,69.3 M2608.9,55 L2637.4,55" stroke="#7f7f7f" stroke-width="5.2" stroke-linecap="round" fill="none"/><path d="M2703.15,51.68 L2707.84,51.51 L2707.84,58.49 L2703.15,58.32 L2701.94,61.24 L2705.38,64.44 L2700.44,69.38 L2697.24,65.94 L2694.32,67.15 L2694.49,71.84 L2687.51,71.84 L2687.68,67.15 L2684.76,65.94 L2681.56,69.38 L2676.62,64.44 L2680.06,61.24 L2678.85,58.32 L2674.16,58.49 L2674.16,51.51 L2678.85,51.68 L2680.06,48.76 L2676.62,45.56 L2681.56,40.62 L2684.76,44.06 L2687.68,42.85 L2687.51,38.16 L2694.49,38.16 L2694.32,42.85 L2697.24,44.06 L2700.44,40.62 L2705.38,45.56 L2701.94,48.76Z M2698.40,55.00 A7.4,7.4 0 1,0 2683.60,55.00 A7.4,7.4 0 1,0 2698.40,55.00Z" fill="#7f7f7f" fill-rule="evenodd"/><g fill="#7f7f7f"><path d="M2741.8,38 h34 v25.8 h-34 Z M2745.8,42 v17.8 h26 v-17.8 Z" fill-rule="evenodd"/><rect x="2756.6" y="63.5" width="4.6" height="4.5"/><rect x="2749.6" y="67" width="18.6" height="3.9" rx="1.9"/></g><defs><filter id="avb" x="-10%" y="-10%" width="120%" height="120%"><feGaussianBlur stdDeviation="0.9"/></filter><linearGradient id="avbg" x1="0" y1="0" x2="1" y2="0"><stop offset="0" stop-color="#f4eeea"/><stop offset="1" stop-color="#faf7f5"/></linearGradient><linearGradient id="avh" x1="0" y1="0" x2="1" y2="0"><stop offset="0" stop-color="#b08258"/><stop offset="0.55" stop-color="#7d4c30"/><stop offset="1" stop-color="#4a2d22"/></linearGradient><clipPath id="avc"><rect x="2800" y="28" width="56" height="54" rx="8"/></clipPath></defs><g clip-path="url(#avc)"><rect x="2798" y="26" width="60" height="58" fill="url(#avbg)"/><g filter="url(#avb)"><polygon points="2838.15,67.69 2846.25,60.28 2856.67,63.75 2856.67,82.27 2822.41,82.27 2827.96,77.87 2831.67,70.93" fill="#26262e"/><polygon points="2829.81,56.11 2836.76,55.19 2845.56,60.37 2838.61,67.45 2833.06,72.31 2828.43,77.87 2829.35,66.30" fill="#dcb19c"/><ellipse cx="2828.66" cy="38.52" rx="10.42" ry="7.87" fill="#3e2c24"/><ellipse cx="2838.38" cy="45.93" rx="2.08" ry="5.09" fill="#e3bda9"/><ellipse cx="2829.12" cy="48.47" rx="8.80" ry="10.42" fill="#dbae9a"/><polygon points="2818.70,43.15 2819.63,35.28 2828.43,32.04 2836.30,35.28 2838.15,43.15 2834.44,38.06 2827.04,36.20 2821.94,38.52" fill="#3e2c24"/><polygon points="2823.33,56.11 2830.74,61.67 2829.35,77.87 2822.41,82.27 2815.00,82.27 2819.63,68.61" fill="url(#avh)"/><ellipse cx="2828.89" cy="54.49" rx="2.55" ry="0.83" fill="#c98f88"/><ellipse cx="2839.07" cy="50.32" rx="0.83" ry="2.31" fill="#6b4a3a"/></g></g><polygon points="2832.82,68.24 2856.02,68.24 2856.02,81.94 2840.93,81.94" fill="#f6f6f6"/><polygon points="2838.61,72.08 2855.97,72.08 2847.27,80.74" fill="#969696"/><circle cx="756.4" cy="176.8" r="12.6" fill="#a7a7a7"/></svg>
<div class="t" style="left:753px;top:167.2px;font-size:19px;font-family:'Liberation Serif',serif;font-style:italic;font-weight:bold;color:#fcfcfc;">i</div>
<div class="t" style="left:306.00px;top:159.25px;font-size:35.00px;color:#5a5a5a;letter-spacing:0.833px;">Cumulative Flow Diagram</div>
<div class="a" style="left:2234px;top:144px;width:72px;height:72px;background:#fff;border-radius:7px;box-shadow:0 6px 18px rgba(0,0,0,0.075),0 1px 4px rgba(0,0,0,0.03);"></div>
<div class="a" style="left:2320px;top:144px;width:72px;height:72px;background:#fff;border-radius:7px;box-shadow:0 6px 18px rgba(0,0,0,0.075),0 1px 4px rgba(0,0,0,0.03);"></div>
<div class="a" style="left:2406px;top:144px;width:450px;height:72px;background:#fff;border-radius:7px;box-shadow:0 6px 18px rgba(0,0,0,0.075),0 1px 4px rgba(0,0,0,0.03);"></div>
<svg width="3360" height="2100" viewBox="0 0 3360 2100"><g fill="none" stroke="#7d7d7d" stroke-width="4.2"><rect x="2252.3" y="162.3" width="33.6" height="35.6" rx="2.5"/><path d="M2263.5,162 V198 M2274.7,162 V198 M2252,174.1 H2286 M2252,186 H2286"/></g><g fill="none" stroke="#7d7d7d"><circle cx="2355.3" cy="179.1" r="12.5" stroke-width="4.2"/><path d="M2346.3,189.6 L2337.3,199.1" stroke-width="5.4" stroke-linecap="round"/><path d="M2339.5,164.6 L2371.5,196.2" stroke="#fff" stroke-width="5"/><path d="M2335.3,160.3 L2375.5,200.2" stroke-width="2"/></g><g fill="#7d7d7d"><path d="M2424.3,165.8 a3,3 0 0,1 3,-3 h31.6 a3,3 0 0,1 3,3 v32.8 a3,3 0 0,1 -3,3 h-31.6 a3,3 0 0,1 -3,-3 Z M2428.2,172.5 v25.2 h29.8 v-25.2 Z" fill-rule="evenodd"/><rect x="2430.8" y="157.8" width="3.6" height="8" rx="1.2"/><rect x="2451" y="157.8" width="3.6" height="8" rx="1.2"/><rect x="2432.0" y="175.7" width="3.8" height="3.8"/><rect x="2437.9" y="175.7" width="3.8" height="3.8"/><rect x="2444.0" y="175.7" width="3.8" height="3.8"/><rect x="2450.0" y="175.7" width="3.8" height="3.8"/><rect x="2432.0" y="182.2" width="3.8" height="3.8"/><rect x="2437.9" y="182.2" width="3.8" height="3.8"/><rect x="2444.0" y="182.2" width="3.8" height="3.8"/><rect x="2450.0" y="182.2" width="3.8" height="3.8"/><rect x="2432.0" y="188.8" width="3.8" height="3.8"/><rect x="2437.9" y="188.8" width="3.8" height="3.8"/><rect x="2444.0" y="188.8" width="3.8" height="3.8"/></g><path d="M2810.5,176.5 L2821.2,186.5 L2832.0,176.5" fill="none" stroke="#5e5e5e" stroke-width="4.2" stroke-linejoin="miter" stroke-linecap="butt"/></svg>
<div class="t" style="left:2475.00px;top:168.00px;font-size:26.50px;color:#585858;letter-spacing:-0.720px;">01 Jun 2018 - 15 Aug 2018</div>
<div class="a" style="left:0px;top:0px;width:198px;height:2100px;background:#081f28;"></div>
<div class="a" style="left:0px;top:0px;width:198px;height:108px;background:#030f14;"></div>
<div class="a" style="left:0px;top:108px;width:198px;height:180px;background:#21343d;"></div>
<div class="t" style="left:51.50px;top:30.00px;font-size:41.50px;color:#fff;letter-spacing:1.336px;-webkit-text-stroke:0.45px #fff;">nave</div>
<svg width="198" height="2100" viewBox="0 0 198 2100"><g transform="translate(40,120) scale(0.05291)"><path d="M290,1168 L520,1168 L700,1020 L810,1020 L1045,828 L1200,855 L1400,745 L1565,745 L1785,455 L1965,440 L1965,1340 L290,1340Z" fill="#929c9e"/><path d="M290,1205 L530,1205 L630,1155 L780,1150 L920,1020 L1040,1025 L1200,962 L1275,975 L1440,865 L1585,858 L1800,665 L1965,620 L1965,1340 L290,1340Z" fill="#bcc3c4"/><path d="M290,1300 L530,1305 L710,1210 L905,1205 L1060,1115 L1185,1110 L1390,965 L1545,995 L1640,995 L1820,825 L1965,805 L1965,1340 L290,1340Z" fill="#e9ebeb"/><rect x="265" y="185" width="32" height="1155" fill="#c9cfcf"/><rect x="265" y="1312" width="1700" height="28" fill="#f1f3f3"/></g><g transform="translate(40,300) scale(0.05291)"><rect x="283" y="185" width="24" height="1155" fill="#e4e7e7"/><rect x="283" y="1312" width="1682" height="28" fill="#e4e7e7"/><rect x="958" y="438" width="44" height="44" rx="13" fill="#e9ebeb"/><rect x="1193" y="660" width="44" height="44" rx="13" fill="#e9ebeb"/><rect x="646" y="723" width="44" height="44" rx="13" fill="#e9ebeb"/><rect x="861" y="740" width="44" height="44" rx="13" fill="#e9ebeb"/><rect x="1608" y="730" width="44" height="44" rx="13" fill="#e9ebeb"/><rect x="451" y="863" width="44" height="44" rx="13" fill="#e9ebeb"/><rect x="646" y="948" width="44" height="44" rx="13" fill="#e9ebeb"/><rect x="1256" y="963" width="44" height="44" rx="13" fill="#e9ebeb"/><rect x="1415" y="973" width="44" height="44" rx="13" fill="#e9ebeb"/><rect x="1788" y="963" width="44" height="44" rx="13" fill="#e9ebeb"/><rect x="1588" y="1023" width="44" height="44" rx="13" fill="#e9ebeb"/><rect x="416" y="1068" width="44" height="44" rx="13" fill="#e9ebeb"/><rect x="473" y="1103" width="44" height="44" rx="13" fill="#e9ebeb"/><rect x="740" y="1073" width="44" height="44" rx="13" fill="#e9ebeb"/><rect x="861" y="1068" width="44" height="44" rx="13" fill="#e9ebeb"/><rect x="1926" y="1068" width="44" height="44" rx="13" fill="#e9ebeb"/><rect x="1753" y="1090" width="44" height="44" rx="13" fill="#e9ebeb"/><rect x="321" y="1150" width="44" height="44" rx="13" fill="#e9ebeb"/><rect x="985" y="1130" width="44" height="44" rx="13" fill="#e9ebeb"/><rect x="1173" y="1150" width="44" height="44" rx="13" fill="#e9ebeb"/><rect x="1235" y="1133" width="44" height="44" rx="13" fill="#e9ebeb"/><rect x="1498" y="1148" width="44" height="44" rx="13" fill="#e9ebeb"/><rect x="1625" y="1148" width="44" height="44" rx="13" fill="#e9ebeb"/><rect x="451" y="1178" width="44" height="44" rx="13" fill="#e9ebeb"/><rect x="700" y="1171" width="44" height="44" rx="13" fill="#e9ebeb"/><rect x="1296" y="1183" width="44" height="44" rx="13" fill="#e9ebeb"/><rect x="1871" y="1175" width="44" height="44" rx="13" fill="#e9ebeb"/><rect x="598" y="1206" width="44" height="44" rx="13" fill="#e9ebeb"/><rect x="776" y="1208" width="44" height="44" rx="13" fill="#e9ebeb"/><rect x="908" y="1193" width="44" height="44" rx="13" fill="#e9ebeb"/><rect x="1083" y="1190" width="44" height="44" rx="13" fill="#e9ebeb"/><rect x="1363" y="1215" width="44" height="44" rx="13" fill="#e9ebeb"/><rect x="1468" y="1203" width="44" height="44" rx="13" fill="#e9ebeb"/><rect x="1683" y="1215" width="44" height="44" rx="13" fill="#e9ebeb"/><rect x="1775" y="1208" width="44" height="44" rx="13" fill="#e9ebeb"/><rect x="390" y="1218" width="44" height="44" rx="13" fill="#e9ebeb"/><rect x="1158" y="1236" width="44" height="44" rx="13" fill="#e9ebeb"/><rect x="1518" y="1243" width="44" height="44" rx="13" fill="#e9ebeb"/><rect x="1910" y="1238" width="44" height="44" rx="13" fill="#e9ebeb"/><rect x="328" y="1268" width="44" height="44" rx="13" fill="#e9ebeb"/><rect x="451" y="1256" width="44" height="44" rx="13" fill="#e9ebeb"/><rect x="513" y="1248" width="44" height="44" rx="13" fill="#e9ebeb"/><rect x="646" y="1256" width="44" height="44" rx="13" fill="#e9ebeb"/><rect x="723" y="1268" width="44" height="44" rx="13" fill="#e9ebeb"/><rect x="826" y="1256" width="44" height="44" rx="13" fill="#e9ebeb"/><rect x="913" y="1268" width="44" height="44" rx="13" fill="#e9ebeb"/><rect x="981" y="1243" width="44" height="44" rx="13" fill="#e9ebeb"/><rect x="1083" y="1268" width="44" height="44" rx="13" fill="#e9ebeb"/><rect x="1256" y="1248" width="44" height="44" rx="13" fill="#e9ebeb"/><rect x="1318" y="1263" width="44" height="44" rx="13" fill="#e9ebeb"/><rect x="1415" y="1265" width="44" height="44" rx="13" fill="#e9ebeb"/><rect x="1605" y="1248" width="44" height="44" rx="13" fill="#e9ebeb"/><rect x="1708" y="1268" width="44" height="44" rx="13" fill="#e9ebeb"/><rect x="1833" y="1260" width="44" height="44" rx="13" fill="#e9ebeb"/></g><g transform="translate(40,480) scale(0.05291)"><rect x="283" y="185" width="24" height="1155" fill="#e4e7e7"/><rect x="283" y="1312" width="1682" height="28" fill="#e4e7e7"/><rect x="398" y="322" width="105" height="998" fill="#b8bfc0"/><rect x="398" y="540" width="105" height="575" fill="#f9fafa"/><rect x="603" y="440" width="105" height="880" fill="#b8bfc0"/><rect x="603" y="655" width="105" height="460" fill="#f9fafa"/><rect x="808" y="378" width="105" height="942" fill="#b8bfc0"/><rect x="808" y="580" width="105" height="535" fill="#f9fafa"/><rect x="1015" y="440" width="105" height="880" fill="#b8bfc0"/><rect x="1015" y="655" width="105" height="460" fill="#f9fafa"/><rect x="1220" y="580" width="105" height="740" fill="#b8bfc0"/><rect x="1220" y="770" width="105" height="345" fill="#f9fafa"/><rect x="1428" y="605" width="105" height="715" fill="#b8bfc0"/><rect x="1428" y="805" width="105" height="310" fill="#f9fafa"/><rect x="1635" y="642" width="105" height="678" fill="#b8bfc0"/><rect x="1635" y="825" width="105" height="290" fill="#f9fafa"/></g><g transform="translate(40,660) scale(0.05291)"><rect x="283" y="185" width="24" height="1155" fill="#e4e7e7"/><rect x="283" y="1312" width="1682" height="28" fill="#e4e7e7"/><rect x="290" y="1040" width="53" height="300" fill="#b9c0c1"/><rect x="343" y="965" width="57" height="375" fill="#b9c0c1"/><rect x="400" y="525" width="58" height="815" fill="#b9c0c1"/><rect x="458" y="700" width="57" height="640" fill="#b9c0c1"/><rect x="515" y="885" width="57" height="455" fill="#b9c0c1"/><rect x="572" y="1020" width="56" height="320" fill="#b9c0c1"/><rect x="628" y="1095" width="57" height="245" fill="#b9c0c1"/><rect x="685" y="1190" width="50" height="150" fill="#b9c0c1"/><rect x="735" y="1095" width="55" height="245" fill="#b9c0c1"/><rect x="790" y="1045" width="58" height="295" fill="#b9c0c1"/><rect x="848" y="965" width="57" height="375" fill="#b9c0c1"/><rect x="905" y="1155" width="58" height="185" fill="#b9c0c1"/><rect x="1065" y="1118" width="55" height="222" fill="#b9c0c1"/><rect x="1135" y="1185" width="40" height="155" fill="#b9c0c1"/><rect x="1190" y="1210" width="40" height="130" fill="#b9c0c1"/><rect x="1232" y="1118" width="58" height="222" fill="#b9c0c1"/><rect x="1300" y="1148" width="45" height="192" fill="#b9c0c1"/><rect x="1513" y="1145" width="57" height="195" fill="#b9c0c1"/><rect x="1570" y="1190" width="55" height="150" fill="#b9c0c1"/><rect x="1625" y="1212" width="55" height="128" fill="#b9c0c1"/><rect x="1685" y="1250" width="55" height="90" fill="#b9c0c1"/><rect x="1850" y="1212" width="50" height="128" fill="#b9c0c1"/><rect x="1905" y="1232" width="55" height="108" fill="#b9c0c1"/><rect x="294" y="1040" width="45" height="300" fill="#eceeee"/><rect x="347" y="965" width="49" height="375" fill="#eceeee"/><rect x="404" y="525" width="50" height="815" fill="#eceeee"/><rect x="462" y="700" width="49" height="640" fill="#eceeee"/><rect x="519" y="885" width="49" height="455" fill="#eceeee"/><rect x="576" y="1020" width="48" height="320" fill="#eceeee"/><rect x="632" y="1095" width="49" height="245" fill="#eceeee"/><rect x="689" y="1190" width="42" height="150" fill="#eceeee"/><rect x="739" y="1095" width="47" height="245" fill="#eceeee"/><rect x="794" y="1045" width="50" height="295" fill="#eceeee"/><rect x="852" y="965" width="49" height="375" fill="#eceeee"/><rect x="909" y="1155" width="50" height="185" fill="#eceeee"/><rect x="1069" y="1118" width="47" height="222" fill="#eceeee"/><rect x="1139" y="1185" width="32" height="155" fill="#eceeee"/><rect x="1194" y="1210" width="32" height="130" fill="#eceeee"/><rect x="1236" y="1118" width="50" height="222" fill="#eceeee"/><rect x="1304" y="1148" width="37" height="192" fill="#eceeee"/><rect x="1517" y="1145" width="49" height="195" fill="#eceeee"/><rect x="1574" y="1190" width="47" height="150" fill="#eceeee"/><rect x="1629" y="1212" width="47" height="128" fill="#eceeee"/><rect x="1689" y="1250" width="47" height="90" fill="#eceeee"/><rect x="1854" y="1212" width="42" height="128" fill="#eceeee"/><rect x="1909" y="1232" width="47" height="108" fill="#eceeee"/></g><g transform="translate(40,852) scale(0.05291)"><rect x="283" y="1312" width="1682" height="28" fill="#e9ebeb"/><rect x="278" y="185" width="26" height="1150" fill="#dfe2e2"/><rect x="710" y="185" width="26" height="1150" fill="#dfe2e2"/><rect x="1138" y="185" width="26" height="1150" fill="#dfe2e2"/><rect x="1565" y="185" width="26" height="1150" fill="#dfe2e2"/><rect x="479" y="841" width="48" height="48" rx="14" fill="#e9ebeb"/><rect x="479" y="918" width="48" height="48" rx="14" fill="#e9ebeb"/><rect x="479" y="1066" width="48" height="48" rx="14" fill="#e9ebeb"/><rect x="479" y="1186" width="48" height="48" rx="14" fill="#e9ebeb"/><rect x="911" y="691" width="48" height="48" rx="14" fill="#e9ebeb"/><rect x="911" y="841" width="48" height="48" rx="14" fill="#e9ebeb"/><rect x="911" y="1146" width="48" height="48" rx="14" fill="#e9ebeb"/><rect x="1341" y="398" width="48" height="48" rx="14" fill="#e9ebeb"/><rect x="1341" y="1048" width="48" height="48" rx="14" fill="#e9ebeb"/><rect x="1341" y="1156" width="48" height="48" rx="14" fill="#e9ebeb"/><rect x="1769" y="786" width="48" height="48" rx="14" fill="#e9ebeb"/><rect x="1769" y="1016" width="48" height="48" rx="14" fill="#e9ebeb"/><rect x="1769" y="1104" width="48" height="48" rx="14" fill="#e9ebeb"/><rect x="1769" y="1186" width="48" height="48" rx="14" fill="#e9ebeb"/></g><g transform="translate(40,1020) scale(0.05291)"><rect x="283" y="185" width="24" height="1155" fill="#e4e7e7"/><rect x="283" y="1312" width="1682" height="28" fill="#e4e7e7"/><rect x="397" y="1248" width="56" height="92" fill="#eceeee"/><rect x="479" y="1155" width="56" height="185" fill="#eceeee"/><rect x="565" y="548" width="56" height="792" fill="#eceeee"/><rect x="644" y="745" width="56" height="595" fill="#eceeee"/><rect x="724" y="1195" width="56" height="145" fill="#eceeee"/><rect x="962" y="1118" width="56" height="222" fill="#eceeee"/><rect x="1042" y="1060" width="56" height="280" fill="#eceeee"/><rect x="1127" y="528" width="56" height="812" fill="#eceeee"/><rect x="1209" y="470" width="56" height="870" fill="#eceeee"/><rect x="1287" y="1003" width="56" height="337" fill="#eceeee"/><rect x="1527" y="1245" width="56" height="95" fill="#eceeee"/><rect x="1607" y="1155" width="56" height="185" fill="#eceeee"/><rect x="1689" y="528" width="56" height="812" fill="#eceeee"/><rect x="1775" y="1075" width="56" height="265" fill="#eceeee"/><rect x="1854" y="1212" width="56" height="128" fill="#eceeee"/></g><g transform="translate(40,1200) scale(0.05291)"><rect x="283" y="185" width="24" height="1155" fill="#e4e7e7"/><rect x="283" y="1312" width="1682" height="28" fill="#e4e7e7"/><rect x="290" y="435" width="110" height="905" fill="#e6e8e8"/><rect x="415" y="832" width="97" height="508" fill="#e6e8e8"/><rect x="528" y="832" width="97" height="508" fill="#e6e8e8"/><rect x="640" y="995" width="97" height="345" fill="#e6e8e8"/><rect x="752" y="1235" width="83" height="105" fill="#e6e8e8"/><rect x="852" y="1135" width="95" height="205" fill="#e6e8e8"/><rect x="962" y="1135" width="98" height="205" fill="#e6e8e8"/><rect x="1075" y="1135" width="100" height="205" fill="#e6e8e8"/><rect x="1405" y="1218" width="105" height="122" fill="#e6e8e8"/><rect x="1528" y="1265" width="94" height="75" fill="#e6e8e8"/><rect x="1855" y="1270" width="110" height="70" fill="#e6e8e8"/></g><g transform="translate(40,1380) scale(0.05291)"><rect x="283" y="185" width="24" height="1155" fill="#e4e7e7"/><rect x="283" y="1312" width="1682" height="28" fill="#e4e7e7"/><rect x="398" y="1155" width="54" height="185" fill="#b9c0c1"/><rect x="510" y="1172" width="57" height="168" fill="#b9c0c1"/><rect x="567" y="360" width="58" height="980" fill="#b9c0c1"/><rect x="628" y="1155" width="54" height="185" fill="#b9c0c1"/><rect x="685" y="1245" width="50" height="95" fill="#b9c0c1"/><rect x="795" y="1250" width="50" height="90" fill="#b9c0c1"/><rect x="850" y="1210" width="55" height="130" fill="#b9c0c1"/><rect x="908" y="1190" width="54" height="150" fill="#b9c0c1"/><rect x="965" y="1010" width="53" height="330" fill="#b9c0c1"/><rect x="1022" y="1190" width="53" height="150" fill="#b9c0c1"/><rect x="1190" y="1250" width="42" height="90" fill="#b9c0c1"/><rect x="1240" y="1225" width="48" height="115" fill="#b9c0c1"/><rect x="1418" y="1250" width="47" height="90" fill="#b9c0c1"/><rect x="1472" y="1270" width="43" height="70" fill="#b9c0c1"/><rect x="402" y="1155" width="46" height="185" fill="#eceeee"/><rect x="514" y="1172" width="49" height="168" fill="#eceeee"/><rect x="571" y="360" width="50" height="980" fill="#eceeee"/><rect x="632" y="1155" width="46" height="185" fill="#eceeee"/><rect x="689" y="1245" width="42" height="95" fill="#eceeee"/><rect x="799" y="1250" width="42" height="90" fill="#eceeee"/><rect x="854" y="1210" width="47" height="130" fill="#eceeee"/><rect x="912" y="1190" width="46" height="150" fill="#eceeee"/><rect x="969" y="1010" width="45" height="330" fill="#eceeee"/><rect x="1026" y="1190" width="45" height="150" fill="#eceeee"/><rect x="1194" y="1250" width="34" height="90" fill="#eceeee"/><rect x="1244" y="1225" width="40" height="115" fill="#eceeee"/><rect x="1422" y="1250" width="39" height="90" fill="#eceeee"/><rect x="1476" y="1270" width="35" height="70" fill="#eceeee"/></g><g transform="translate(40,1544) scale(0.05291)"><rect x="281" y="185" width="25" height="1215" fill="#f4f5f5"/><path d="M290,1165 L1965,615" stroke="#e9ebeb" stroke-width="26" stroke-dasharray="88 26" fill="none"/><rect x="1260" y="552" width="46" height="46" rx="14" fill="#e9ebeb"/><rect x="1424" y="642" width="46" height="46" rx="14" fill="#e9ebeb"/><rect x="817" y="702" width="46" height="46" rx="14" fill="#e9ebeb"/><rect x="1117" y="702" width="46" height="46" rx="14" fill="#e9ebeb"/><rect x="549" y="777" width="46" height="46" rx="14" fill="#e9ebeb"/><rect x="959" y="797" width="46" height="46" rx="14" fill="#e9ebeb"/><rect x="1632" y="785" width="46" height="46" rx="14" fill="#e9ebeb"/><rect x="402" y="877" width="46" height="46" rx="14" fill="#e9ebeb"/><rect x="734" y="870" width="46" height="46" rx="14" fill="#e9ebeb"/><rect x="1327" y="917" width="46" height="46" rx="14" fill="#e9ebeb"/><rect x="537" y="962" width="46" height="46" rx="14" fill="#e9ebeb"/><rect x="1152" y="949" width="46" height="46" rx="14" fill="#e9ebeb"/><rect x="1489" y="982" width="46" height="46" rx="14" fill="#e9ebeb"/><rect x="1632" y="982" width="46" height="46" rx="14" fill="#e9ebeb"/><rect x="982" y="1072" width="46" height="46" rx="14" fill="#e9ebeb"/><rect x="485" y="1167" width="46" height="46" rx="14" fill="#e9ebeb"/><rect x="632" y="1174" width="46" height="46" rx="14" fill="#e9ebeb"/><rect x="799" y="1174" width="46" height="46" rx="14" fill="#e9ebeb"/><rect x="1197" y="1174" width="46" height="46" rx="14" fill="#e9ebeb"/></g><g transform="translate(40,1740) scale(0.05291)"><rect x="265" y="185" width="26" height="1155" fill="#cfd4d4"/><rect x="265" y="1316" width="1700" height="24" fill="#f4f5f5"/><rect x="311.0" y="1250" width="56.0" height="90" fill="#8b9799"/><rect x="367.7" y="1145" width="56.0" height="195" fill="#8b9799"/><rect x="424.4" y="1035" width="56.0" height="305" fill="#8b9799"/><rect x="481.1" y="910" width="56.0" height="430" fill="#8b9799"/><rect x="537.8" y="778" width="56.0" height="562" fill="#8b9799"/><rect x="594.5" y="665" width="56.0" height="675" fill="#8b9799"/><rect x="651.2" y="580" width="56.0" height="760" fill="#8b9799"/><rect x="707.9" y="495" width="56.0" height="845" fill="#8b9799"/><rect x="764.6" y="460" width="56.0" height="880" fill="#8b9799"/><rect x="821.3" y="415" width="56.0" height="925" fill="#8b9799"/><rect x="878.0" y="415" width="56.0" height="925" fill="#8b9799"/><rect x="934.7" y="460" width="56.0" height="880" fill="#8b9799"/><rect x="991.4" y="495" width="56.000000000000114" height="845" fill="#8b9799"/><rect x="1048.1" y="580" width="56.0" height="760" fill="#8b9799"/><rect x="1104.8" y="645" width="56.0" height="695" fill="#8b9799"/><rect x="1161.5" y="730" width="56.0" height="610" fill="#8b9799"/><rect x="1218.2" y="820" width="56.0" height="520" fill="#8b9799"/><rect x="1274.9" y="910" width="56.0" height="430" fill="#8b9799"/><rect x="1331.6" y="1003" width="56.0" height="337" fill="#8b9799"/><rect x="1388.3" y="1078" width="56.0" height="262" fill="#8b9799"/><rect x="1445.0" y="1138" width="56.0" height="202" fill="#8b9799"/><rect x="1501.7" y="1192" width="56.0" height="148" fill="#8b9799"/><rect x="1558.4" y="1212" width="56.0" height="128" fill="#8b9799"/><rect x="1615.1" y="1250" width="56.0" height="90" fill="#8b9799"/><rect x="1671.8" y="1270" width="56.0" height="70" fill="#8b9799"/><rect x="1728.5" y="1290" width="56.0" height="50" fill="#8b9799"/><rect x="1785.2" y="1290" width="56.0" height="50" fill="#8b9799"/><rect x="1841.9" y="1310" width="56.0" height="30" fill="#8b9799"/><rect x="318.0" y="1250" width="42.0" height="90" fill="#eff1f1"/><rect x="374.7" y="1145" width="42.0" height="195" fill="#eff1f1"/><rect x="431.4" y="1035" width="42.0" height="305" fill="#eff1f1"/><rect x="488.1" y="910" width="42.0" height="430" fill="#eff1f1"/><rect x="544.8" y="778" width="42.0" height="562" fill="#eff1f1"/><rect x="601.5" y="665" width="42.0" height="675" fill="#eff1f1"/><rect x="658.2" y="580" width="42.0" height="760" fill="#eff1f1"/><rect x="714.9" y="495" width="42.0" height="845" fill="#eff1f1"/><rect x="771.6" y="460" width="42.0" height="880" fill="#eff1f1"/><rect x="828.3" y="415" width="42.0" height="925" fill="#eff1f1"/><rect x="885.0" y="415" width="42.0" height="925" fill="#eff1f1"/><rect x="941.7" y="460" width="42.0" height="880" fill="#eff1f1"/><rect x="998.4" y="495" width="42.000000000000114" height="845" fill="#eff1f1"/><rect x="1055.1" y="580" width="42.0" height="760" fill="#eff1f1"/><rect x="1111.8" y="645" width="42.0" height="695" fill="#eff1f1"/><rect x="1168.5" y="730" width="42.0" height="610" fill="#eff1f1"/><rect x="1225.2" y="820" width="42.0" height="520" fill="#eff1f1"/><rect x="1281.9" y="910" width="42.0" height="430" fill="#eff1f1"/><rect x="1338.6" y="1003" width="42.0" height="337" fill="#eff1f1"/><rect x="1395.3" y="1078" width="42.0" height="262" fill="#eff1f1"/><rect x="1452.0" y="1138" width="42.0" height="202" fill="#eff1f1"/><rect x="1508.7" y="1192" width="42.0" height="148" fill="#eff1f1"/><rect x="1565.4" y="1212" width="42.0" height="128" fill="#eff1f1"/><rect x="1622.1" y="1250" width="42.0" height="90" fill="#eff1f1"/><rect x="1678.8" y="1270" width="42.0" height="70" fill="#eff1f1"/><rect x="1735.5" y="1290" width="42.0" height="50" fill="#eff1f1"/><rect x="1792.2" y="1290" width="42.0" height="50" fill="#eff1f1"/><rect x="1848.9" y="1310" width="42.0" height="30" fill="#eff1f1"/></g><g transform="translate(40,1920) scale(0.05291)"><rect x="265" y="185" width="26" height="1155" fill="#cfd4d4"/><rect x="265" y="1316" width="1700" height="24" fill="#f4f5f5"/><rect x="311.0" y="1310" width="56.0" height="30" fill="#8b9799"/><rect x="367.7" y="1290" width="56.0" height="50" fill="#8b9799"/><rect x="424.4" y="1265" width="56.0" height="75" fill="#8b9799"/><rect x="481.1" y="1190" width="56.0" height="150" fill="#8b9799"/><rect x="537.8" y="1100" width="56.0" height="240" fill="#8b9799"/><rect x="594.5" y="985" width="56.0" height="355" fill="#8b9799"/><rect x="651.2" y="865" width="56.0" height="475" fill="#8b9799"/><rect x="707.9" y="778" width="56.0" height="562" fill="#8b9799"/><rect x="764.6" y="665" width="56.0" height="675" fill="#8b9799"/><rect x="821.3" y="580" width="56.0" height="760" fill="#8b9799"/><rect x="878.0" y="500" width="56.0" height="840" fill="#8b9799"/><rect x="934.7" y="465" width="56.0" height="875" fill="#8b9799"/><rect x="991.4" y="415" width="56.000000000000114" height="925" fill="#8b9799"/><rect x="1048.1" y="415" width="56.0" height="925" fill="#8b9799"/><rect x="1104.8" y="465" width="56.0" height="875" fill="#8b9799"/><rect x="1161.5" y="500" width="56.0" height="840" fill="#8b9799"/><rect x="1218.2" y="580" width="56.0" height="760" fill="#8b9799"/><rect x="1274.9" y="645" width="56.0" height="695" fill="#8b9799"/><rect x="1331.6" y="730" width="56.0" height="610" fill="#8b9799"/><rect x="1388.3" y="822" width="56.0" height="518" fill="#8b9799"/><rect x="1445.0" y="910" width="56.0" height="430" fill="#8b9799"/><rect x="1501.7" y="1003" width="56.0" height="337" fill="#8b9799"/><rect x="1558.4" y="1078" width="56.0" height="262" fill="#8b9799"/><rect x="1615.1" y="1138" width="56.0" height="202" fill="#8b9799"/><rect x="1671.8" y="1192" width="56.0" height="148" fill="#8b9799"/><rect x="1728.5" y="1232" width="56.0" height="108" fill="#8b9799"/><rect x="1785.2" y="1265" width="56.0" height="75" fill="#8b9799"/><rect x="1841.9" y="1285" width="56.0" height="55" fill="#8b9799"/><rect x="1898.6" y="1300" width="56.0" height="40" fill="#8b9799"/><rect x="318.0" y="1310" width="42.0" height="30" fill="#eff1f1"/><rect x="374.7" y="1290" width="42.0" height="50" fill="#eff1f1"/><rect x="431.4" y="1265" width="42.0" height="75" fill="#eff1f1"/><rect x="488.1" y="1190" width="42.0" height="150" fill="#eff1f1"/><rect x="544.8" y="1100" width="42.0" height="240" fill="#eff1f1"/><rect x="601.5" y="985" width="42.0" height="355" fill="#eff1f1"/><rect x="658.2" y="865" width="42.0" height="475" fill="#eff1f1"/><rect x="714.9" y="778" width="42.0" height="562" fill="#eff1f1"/><rect x="771.6" y="665" width="42.0" height="675" fill="#eff1f1"/><rect x="828.3" y="580" width="42.0" height="760" fill="#eff1f1"/><rect x="885.0" y="500" width="42.0" height="840" fill="#eff1f1"/><rect x="941.7" y="465" width="42.0" height="875" fill="#eff1f1"/><rect x="998.4" y="415" width="42.000000000000114" height="925" fill="#eff1f1"/><rect x="1055.1" y="415" width="42.0" height="925" fill="#eff1f1"/><rect x="1111.8" y="465" width="42.0" height="875" fill="#eff1f1"/><rect x="1168.5" y="500" width="42.0" height="840" fill="#eff1f1"/><rect x="1225.2" y="580" width="42.0" height="760" fill="#eff1f1"/><rect x="1281.9" y="645" width="42.0" height="695" fill="#eff1f1"/><rect x="1338.6" y="730" width="42.0" height="610" fill="#eff1f1"/><rect x="1395.3" y="822" width="42.0" height="518" fill="#eff1f1"/><rect x="1452.0" y="910" width="42.0" height="430" fill="#eff1f1"/><rect x="1508.7" y="1003" width="42.0" height="337" fill="#eff1f1"/><rect x="1565.4" y="1078" width="42.0" height="262" fill="#eff1f1"/><rect x="1622.1" y="1138" width="42.0" height="202" fill="#eff1f1"/><rect x="1678.8" y="1192" width="42.0" height="148" fill="#eff1f1"/><rect x="1735.5" y="1232" width="42.0" height="108" fill="#eff1f1"/><rect x="1792.2" y="1265" width="42.0" height="75" fill="#eff1f1"/><rect x="1848.9" y="1285" width="42.0" height="55" fill="#eff1f1"/><rect x="1905.6" y="1300" width="42.0" height="40" fill="#eff1f1"/></g></svg>
<div class="t" style="left:13.70px;top:207.50px;font-size:22.50px;color:#fff;letter-spacing:0.307px;">Cumulative Flow</div>
<div class="t" style="left:55.10px;top:237.50px;font-size:22.50px;color:#fff;letter-spacing:0.462px;">Diagram</div>
<div class="t" style="left:43.70px;top:388.50px;font-size:22.50px;color:#fff;letter-spacing:-0.075px;">Cycle Time</div>
<div class="t" style="left:42.15px;top:418.50px;font-size:22.50px;color:#fff;letter-spacing:0.614px;">Scatterplot</div>
<div class="t" style="left:43.70px;top:568.50px;font-size:22.50px;color:#fff;letter-spacing:-0.075px;">Cycle Time</div>
<div class="t" style="left:9.70px;top:598.50px;font-size:22.50px;color:#fff;letter-spacing:0.340px;">Breakdown Chart</div>
<div class="t" style="left:43.70px;top:748.50px;font-size:22.50px;color:#fff;letter-spacing:-0.075px;">Cycle Time</div>
<div class="t" style="left:46.35px;top:778.50px;font-size:22.50px;color:#fff;letter-spacing:0.347px;">Histogram</div>
<div class="t" style="left:37.10px;top:945.50px;font-size:22.50px;color:#fff;letter-spacing:0.498px;">Aging Chart</div>
<div class="t" style="left:16.35px;top:1107.50px;font-size:22.50px;color:#fff;letter-spacing:0.207px;">Throughput Run</div>
<div class="t" style="left:70.30px;top:1137.50px;font-size:22.50px;color:#fff;letter-spacing:0.595px;">Chart</div>
<div class="t" style="left:39.75px;top:1288.50px;font-size:22.50px;color:#fff;letter-spacing:0.379px;">Throughput</div>
<div class="t" style="left:46.35px;top:1318.50px;font-size:22.50px;color:#fff;letter-spacing:0.347px;">Histogram</div>
<div class="t" style="left:22.15px;top:1468.50px;font-size:22.50px;color:#fff;letter-spacing:0.290px;">Flow Efficiency</div>
<div class="t" style="left:70.30px;top:1498.50px;font-size:22.50px;color:#fff;letter-spacing:0.595px;">Chart</div>
<div class="t" style="left:51.10px;top:1633.50px;font-size:22.50px;color:#fff;letter-spacing:0.106px;">Due Date</div>
<div class="t" style="left:33.25px;top:1663.50px;font-size:22.50px;color:#fff;letter-spacing:0.269px;">Performance</div>
<div class="t" style="left:70.30px;top:1694.50px;font-size:22.50px;color:#fff;letter-spacing:0.595px;">Chart</div>
<div class="t" style="left:32.55px;top:1828.50px;font-size:22.50px;color:#fff;letter-spacing:0.372px;">Monte Carlo:</div>
<div class="t" style="left:30.25px;top:1858.50px;font-size:22.50px;color:#fff;letter-spacing:0.204px;">Delivery Date</div>
<div class="t" style="left:32.55px;top:2008.50px;font-size:22.50px;color:#fff;letter-spacing:0.372px;">Monte Carlo:</div>
<div class="t" style="left:13.80px;top:2038.50px;font-size:22.50px;color:#fff;letter-spacing:0.143px;">Number of Tasks</div>
<div class="a" style="left:2892px;top:0px;width:468px;height:2100px;background:#fcfcfc;"></div>
<div class="a" style="left:2892px;top:0px;width:468px;height:106px;background:#1f4e68;"></div>
<div class="a" style="left:2892px;top:704px;width:468px;height:106px;background:#1f4e68;"></div>
<div class="a" style="left:2892px;top:108px;width:8px;height:174px;background:#1f4e68;"></div>
<div class="a" style="left:2892px;top:284px;width:8px;height:208px;background:#1f4e68;"></div>
<div class="a" style="left:2892px;top:494px;width:8px;height:208px;background:#1f4e68;"></div>
<div class="a" style="left:2892px;top:812px;width:8px;height:578px;background:#1f4e68;"></div>
<div class="a" style="left:2892px;top:1392px;width:8px;height:376px;background:#1f4e68;"></div>
<div class="a" style="left:2892px;top:1768px;width:8px;height:332px;background:#d1d0d1;"></div>
<div class="a" style="left:2900px;top:282px;width:460px;height:2px;background:#ebebeb;"></div>
<div class="a" style="left:2900px;top:492px;width:460px;height:2px;background:#ebebeb;"></div>
<div class="a" style="left:2900px;top:1390px;width:460px;height:2px;background:#ebebeb;"></div>
<div class="a" style="left:2900px;top:1768px;width:460px;height:108px;background:#f3f3f3;border-top:2px solid #d2d2d2;border-bottom:2px solid #d2d2d2;"></div>
<div class="t" style="left:2972.00px;top:36.75px;font-size:30.00px;color:#fff;letter-spacing:0.084px;-webkit-text-stroke:1.1px #fff;">Controls</div>
<div class="t" style="left:2972.00px;top:737.75px;font-size:30.00px;color:#fff;letter-spacing:-0.445px;-webkit-text-stroke:1.1px #fff;">Filters</div>
<div class="t" style="left:2972.50px;top:142.75px;font-size:30.00px;color:#565656;letter-spacing:0.244px;-webkit-text-stroke:1.1px #565656;">Arrival &amp; departure lines</div>
<div class="t" style="left:2972.50px;top:315.75px;font-size:30.00px;color:#565656;letter-spacing:0.408px;-webkit-text-stroke:1.1px #565656;">WIP tooltips</div>
<div class="t" style="left:2972.50px;top:526.75px;font-size:30.00px;color:#565656;letter-spacing:0.421px;-webkit-text-stroke:1.1px #565656;">Cycle time tooltips</div>
<div class="t" style="left:2972.50px;top:845.75px;font-size:30.00px;color:#565656;letter-spacing:-0.721px;-webkit-text-stroke:1.1px #565656;">Lists</div>
<div class="t" style="left:2972.50px;top:1427.75px;font-size:30.00px;color:#565656;letter-spacing:-0.361px;-webkit-text-stroke:1.1px #565656;">Labels</div>
<div class="t" style="left:2972.50px;top:1807.75px;font-size:30.00px;color:#565656;letter-spacing:-0.338px;-webkit-text-stroke:1.1px #565656;">Members</div>
<div class="t" style="left:3011.50px;top:210.75px;font-size:25.00px;color:#333;letter-spacing:0.625px;">Enabled</div>
<div class="t" style="left:3011.50px;top:376.75px;font-size:25.00px;color:#333;letter-spacing:0.325px;">States</div>
<div class="t" style="left:3011.50px;top:428.75px;font-size:25.00px;color:#333;letter-spacing:-0.302px;">Process</div>
<div class="t" style="left:3011.50px;top:586.75px;font-size:25.00px;color:#333;letter-spacing:0.325px;">States</div>
<div class="t" style="left:3011.50px;top:638.75px;font-size:25.00px;color:#333;letter-spacing:-0.302px;">Process</div>
<div class="t" style="left:3011.50px;top:912.75px;font-size:25.00px;color:#333;letter-spacing:0.617px;">Select all</div>
<div class="t" style="left:3011.50px;top:964.75px;font-size:25.00px;color:#333;letter-spacing:0.835px;">To do</div>
<div class="t" style="left:3011.50px;top:1014.75px;font-size:25.00px;color:#333;letter-spacing:0.969px;">Development</div>
<div class="t" style="left:3011.50px;top:1064.75px;font-size:25.00px;color:#333;letter-spacing:0.604px;">Code review</div>
<div class="t" style="left:3011.50px;top:1116.75px;font-size:25.00px;color:#333;letter-spacing:0.569px;">Code review (Done)</div>
<div class="t" style="left:3011.50px;top:1166.75px;font-size:25.00px;color:#333;letter-spacing:0.631px;">Testing</div>
<div class="t" style="left:3011.50px;top:1218.75px;font-size:25.00px;color:#333;letter-spacing:0.456px;">Testing (Done)</div>
<div class="t" style="left:3011.50px;top:1268.75px;font-size:25.00px;color:#333;letter-spacing:1.122px;">Deployment</div>
<div class="t" style="left:3011.50px;top:1318.75px;font-size:25.00px;color:#333;letter-spacing:0.577px;">Done</div>
<div class="t" style="left:3011.50px;top:1494.75px;font-size:25.00px;color:#333;letter-spacing:0.617px;">Select all</div>
<div class="t" style="left:3040.00px;top:1545.75px;font-size:25.00px;color:#333;letter-spacing:0.744px;">Expedite</div>
<div class="t" style="left:3040.00px;top:1597.75px;font-size:25.00px;color:#333;letter-spacing:0.687px;">Fixed Delivery Date</div>
<div class="t" style="left:3040.00px;top:1647.75px;font-size:25.00px;color:#333;letter-spacing:1.175px;">Intangible</div>
<div class="t" style="left:3040.00px;top:1697.75px;font-size:25.00px;color:#333;letter-spacing:1.004px;">Standard</div>
<div class="a" style="left:3200px;top:1940px;width:94px;height:94px;background:#525252;border-radius:10px;box-shadow:0 4px 14px rgba(0,0,0,0.28);"></div><svg width="3360" height="2100" viewBox="0 0 3360 2100"><path d="M2926.3,52.1 L2937.0,62.7 L2947.7,52.1" fill="none" stroke="#fff" stroke-width="4.6"/><path d="M2926.3,754.3 L2937.0,764.9 L2947.7,754.3" fill="none" stroke="#fff" stroke-width="4.6"/><path d="M2926.3,158.0 L2937.0,168.6 L2947.7,158.0" fill="none" stroke="#262626" stroke-width="4.6"/><path d="M2926.3,332.1 L2937.0,342.7 L2947.7,332.1" fill="none" stroke="#262626" stroke-width="4.6"/><path d="M2926.3,541.9 L2937.0,552.5 L2947.7,541.9" fill="none" stroke="#262626" stroke-width="4.6"/><path d="M2926.3,860.3 L2937.0,870.9 L2947.7,860.3" fill="none" stroke="#262626" stroke-width="4.6"/><path d="M2926.3,1442.2 L2937.0,1452.8 L2947.7,1442.2" fill="none" stroke="#262626" stroke-width="4.6"/><path d="M2937.2,1811.7 L2947.8,1823.0 L2937.2,1834.3" fill="none" stroke="#262626" stroke-width="4.6"/><rect x="2973" y="212.0" width="22" height="22" rx="3.5" fill="#fcfcfc" stroke="#4a4a4a" stroke-width="2"/><path d="M2977.3,224.6 L2982,229.6 L2990.2,217.4" fill="none" stroke="#444" stroke-width="2.7" stroke-linejoin="miter"/><circle cx="2984" cy="393.0" r="11.8" fill="#fcfcfc" stroke="#4a4a4a" stroke-width="2"/><circle cx="2983.5" cy="393.6" r="7.2" fill="#4a4a4a"/><circle cx="2984" cy="444.2" r="10.8" fill="#fcfcfc" stroke="#4a4a4a" stroke-width="2"/><circle cx="2984" cy="603.0" r="10.8" fill="#fcfcfc" stroke="#4a4a4a" stroke-width="2"/><circle cx="2984" cy="654.0" r="11.8" fill="#fcfcfc" stroke="#4a4a4a" stroke-width="2"/><circle cx="2983.5" cy="654.6" r="7.2" fill="#4a4a4a"/><rect x="2973" y="915.0" width="22" height="22" rx="3.5" fill="#fcfcfc" stroke="#4a4a4a" stroke-width="2"/><rect x="2973" y="967.0" width="22" height="22" rx="3.5" fill="#fcfcfc" stroke="#4a4a4a" stroke-width="2"/><rect x="2973" y="1017.0" width="22" height="22" rx="3.5" fill="#fcfcfc" stroke="#4a4a4a" stroke-width="2"/><path d="M2977.3,1029.6 L2982,1034.6 L2990.2,1022.4" fill="none" stroke="#444" stroke-width="2.7" stroke-linejoin="miter"/><rect x="2973" y="1067.0" width="22" height="22" rx="3.5" fill="#fcfcfc" stroke="#4a4a4a" stroke-width="2"/><path d="M2977.3,1079.6 L2982,1084.6 L2990.2,1072.4" fill="none" stroke="#444" stroke-width="2.7" stroke-linejoin="miter"/><rect x="2973" y="1119.0" width="22" height="22" rx="3.5" fill="#fcfcfc" stroke="#4a4a4a" stroke-width="2"/><path d="M2977.3,1131.6 L2982,1136.6 L2990.2,1124.4" fill="none" stroke="#444" stroke-width="2.7" stroke-linejoin="miter"/><rect x="2973" y="1169.0" width="22" height="22" rx="3.5" fill="#fcfcfc" stroke="#4a4a4a" stroke-width="2"/><path d="M2977.3,1181.6 L2982,1186.6 L2990.2,1174.4" fill="none" stroke="#444" stroke-width="2.7" stroke-linejoin="miter"/><rect x="2973" y="1221.0" width="22" height="22" rx="3.5" fill="#fcfcfc" stroke="#4a4a4a" stroke-width="2"/><path d="M2977.3,1233.6 L2982,1238.6 L2990.2,1226.4" fill="none" stroke="#444" stroke-width="2.7" stroke-linejoin="miter"/><rect x="2973" y="1271.0" width="22" height="22" rx="3.5" fill="#fcfcfc" stroke="#4a4a4a" stroke-width="2"/><path d="M2977.3,1283.6 L2982,1288.6 L2990.2,1276.4" fill="none" stroke="#444" stroke-width="2.7" stroke-linejoin="miter"/><rect x="2973" y="1321.0" width="22" height="22" rx="3.5" fill="#fcfcfc" stroke="#4a4a4a" stroke-width="2"/><path d="M2977.3,1333.6 L2982,1338.6 L2990.2,1326.4" fill="none" stroke="#444" stroke-width="2.7" stroke-linejoin="miter"/><rect x="2973" y="1497.0" width="22" height="22" rx="3.5" fill="#fcfcfc" stroke="#4a4a4a" stroke-width="2"/><path d="M2977.3,1509.6 L2982,1514.6 L2990.2,1502.4" fill="none" stroke="#444" stroke-width="2.7" stroke-linejoin="miter"/><rect x="2973" y="1547.0" width="22" height="22" rx="3.5" fill="#fcfcfc" stroke="#4a4a4a" stroke-width="2"/><path d="M2977.3,1559.6 L2982,1564.6 L2990.2,1552.4" fill="none" stroke="#444" stroke-width="2.7" stroke-linejoin="miter"/><circle cx="3019" cy="1559.3" r="9" fill="#e0857c"/><rect x="2973" y="1599.0" width="22" height="22" rx="3.5" fill="#fcfcfc" stroke="#4a4a4a" stroke-width="2"/><path d="M2977.3,1611.6 L2982,1616.6 L2990.2,1604.4" fill="none" stroke="#444" stroke-width="2.7" stroke-linejoin="miter"/><circle cx="3019" cy="1611.3" r="9" fill="#f3b272"/><rect x="2973" y="1649.0" width="22" height="22" rx="3.5" fill="#fcfcfc" stroke="#4a4a4a" stroke-width="2"/><path d="M2977.3,1661.6 L2982,1666.6 L2990.2,1654.4" fill="none" stroke="#444" stroke-width="2.7" stroke-linejoin="miter"/><circle cx="3019" cy="1661.3" r="9" fill="#84cbe3"/><rect x="2973" y="1699.0" width="22" height="22" rx="3.5" fill="#fcfcfc" stroke="#4a4a4a" stroke-width="2"/><path d="M2977.3,1711.6 L2982,1716.6 L2990.2,1704.4" fill="none" stroke="#444" stroke-width="2.7" stroke-linejoin="miter"/><circle cx="3019" cy="1711.3" r="9" fill="#9bcb87"/><path d="M3247,1964.5 C3259.5,1964.5 3269,1972.5 3269,1983 C3269,1993.5 3259.5,2001.5 3247,2001.5 C3244,2001.5 3241.3,2001.1 3238.8,2000.3 C3236.5,2003.5 3233.2,2006 3229.6,2007.2 C3231.6,2004.4 3232.6,2001 3232.2,1997.6 C3227.8,1994.2 3225,1989 3225,1983 C3225,1972.5 3234.5,1964.5 3247,1964.5 Z" fill="#fff"/></svg>
</body></html>
